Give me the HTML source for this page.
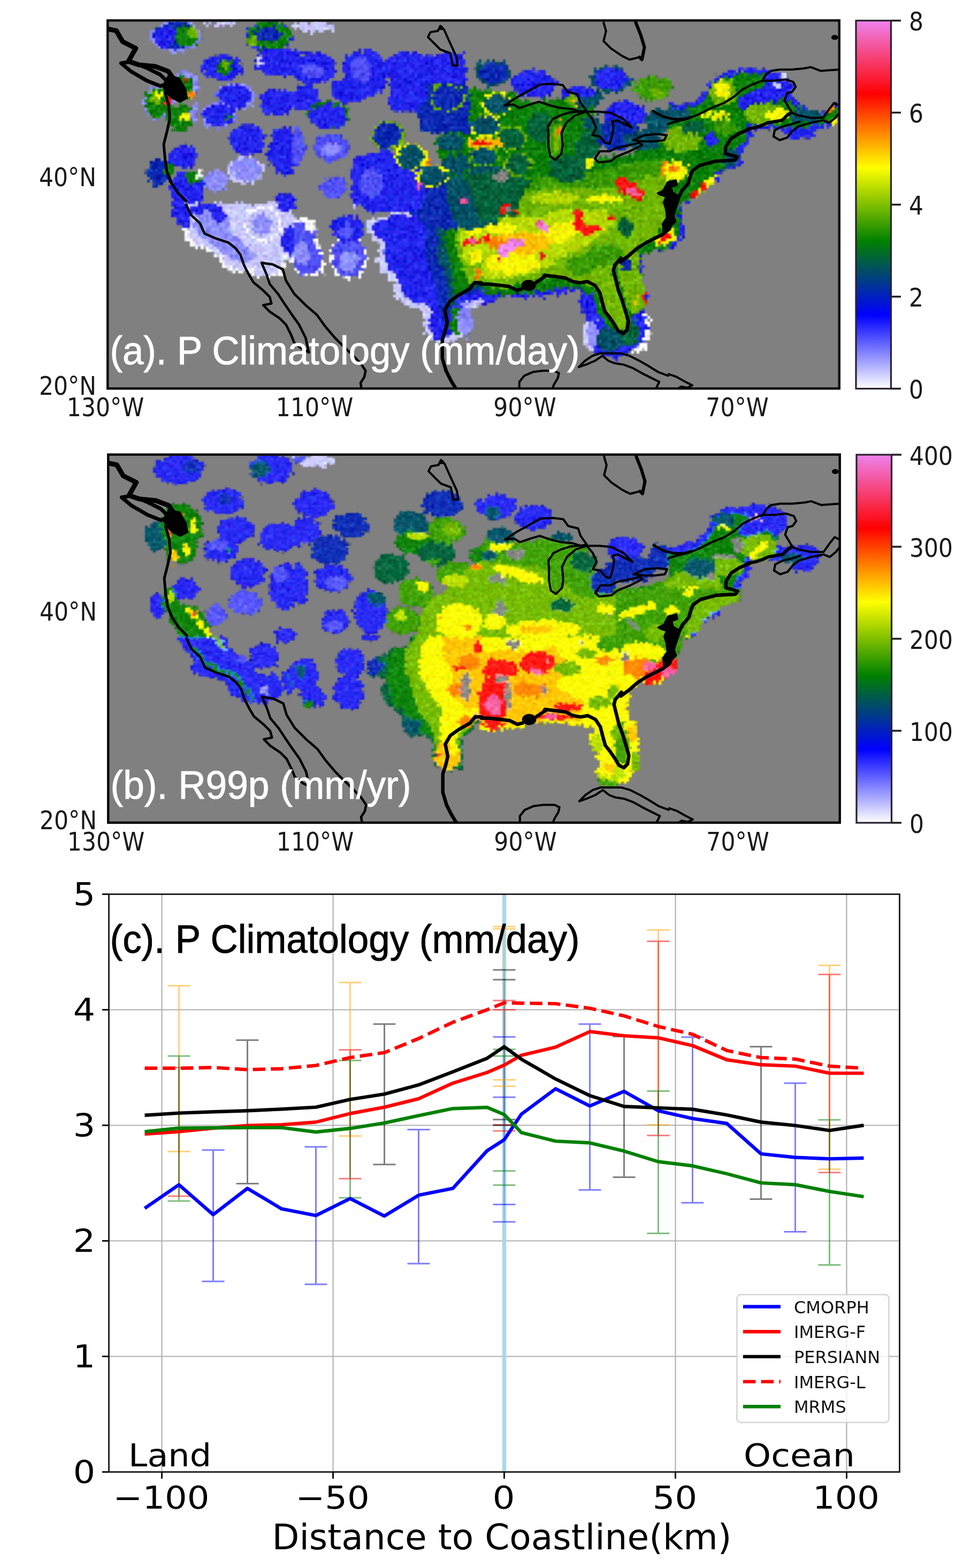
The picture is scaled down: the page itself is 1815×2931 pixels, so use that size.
<!DOCTYPE html>
<html lang="en"><head><meta charset="utf-8"><title>Precipitation climatology figure</title>
<style>html,body{margin:0;padding:0;background:#fff}body{width:1815px;height:2931px;overflow:hidden}svg{display:block}.tk{font-family:'DejaVu Sans','Liberation Sans',sans-serif;font-size:48px;fill:#1a1a1a}.tt{font-family:'Liberation Sans','DejaVu Sans',sans-serif;font-size:74px;stroke-width:0.9px;paint-order:stroke fill}.ct{font-family:'DejaVu Sans','Liberation Sans',sans-serif;font-size:59px;fill:#000}.lg{font-family:'DejaVu Sans','Liberation Sans',sans-serif;font-size:32px;fill:#111}</style></head><body>
<svg width="1815" height="2931" viewBox="0 0 1815 2931">
<defs>
<linearGradient id="cb" x1="0" y1="0" x2="0" y2="1"><stop offset="0" stop-color="#ee82ee"/><stop offset="0.2" stop-color="#ff0000"/><stop offset="0.4" stop-color="#ffff00"/><stop offset="0.6" stop-color="#008000"/><stop offset="0.8" stop-color="#0000ff"/><stop offset="1" stop-color="#ffffff"/></linearGradient>
<filter id="rough" filterUnits="userSpaceOnUse" x="200" y="36" width="1370" height="692" color-interpolation-filters="sRGB">
<feTurbulence type="fractalNoise" baseFrequency="0.11" numOctaves="2" seed="3" result="n"/>
<feDisplacementMap in="SourceGraphic" in2="n" scale="15" xChannelSelector="R" yChannelSelector="G" result="d"/>
<feTurbulence type="fractalNoise" baseFrequency="0.45" numOctaves="1" seed="11" result="n2"/>
<feDisplacementMap in="d" in2="n2" scale="13" xChannelSelector="G" yChannelSelector="R" result="d2"/>
<feTurbulence type="fractalNoise" baseFrequency="0.3" numOctaves="2" seed="29"/>
<feColorMatrix type="matrix" values="0.75 0.3 0 0 0  0.3 0.75 0 0 0  0.5 0.5 0 0 0  0 0 0 0 1" result="n3"/>
<feComposite in="d2" in2="n3" operator="arithmetic" k1="0" k2="1" k3="0.5" k4="-0.26" result="dn"/>
<feComposite in="dn" in2="d2" operator="in" result="dm"/>
<feFlood x="202" y="38" width="1" height="1" flood-color="#000"/>
<feComposite x="200" y="36" width="5" height="5"/>
<feTile result="grid"/>
<feComposite in="dm" in2="grid" operator="in"/>
<feMorphology operator="dilate" radius="2" result="px"/>
<feGaussianBlur in="px" stdDeviation="1.3"/>
</filter>

<clipPath id="clipA"><rect x="201" y="38" width="1368" height="688"/></clipPath>
<clipPath id="clipC"><rect x="204" y="1671" width="1478" height="1081"/></clipPath>
</defs>
<rect width="1815" height="2931" fill="#fff"/>
<g transform="translate(0 0)">
<rect x="201" y="38" width="1368" height="688" fill="#808080"/>
<g clip-path="url(#clipA)">
<g filter="url(#rough)">
<ellipse cx="329.6" cy="68.2" rx="47.5" ry="30.1" fill="#8c8cff"/>
<ellipse cx="329.6" cy="67.0" rx="42.1" ry="25.9" fill="#0a28b4"/>
<ellipse cx="348.1" cy="67.0" rx="23.1" ry="21.3" fill="#0a7e0a"/>
<ellipse cx="359.7" cy="60.1" rx="9.3" ry="11.6" fill="#70b400"/>
<ellipse cx="308.8" cy="69.4" rx="20.8" ry="18.5" fill="#2222f0"/>
<ellipse cx="408.3" cy="44.4" rx="30.1" ry="4.2" fill="#c8c8ff"/>
<ellipse cx="503.2" cy="68.2" rx="44.0" ry="30.1" fill="#2222f0"/>
<ellipse cx="503.2" cy="67.0" rx="39.8" ry="25.9" fill="#0a7e0a"/>
<ellipse cx="500.9" cy="64.7" rx="26.6" ry="14.4" fill="#0a28b4"/>
<ellipse cx="473.1" cy="76.3" rx="9.3" ry="11.6" fill="#70b400"/>
<ellipse cx="414.1" cy="126.1" rx="39.4" ry="24.3" fill="#2222f0"/>
<ellipse cx="419.9" cy="123.8" rx="13.9" ry="13.9" fill="#0a7e0a"/>
<ellipse cx="422.2" cy="120.3" rx="5.8" ry="9.3" fill="#70b400"/>
<ellipse cx="524.1" cy="116.8" rx="50.9" ry="25.9" fill="#2222f0"/>
<ellipse cx="484.7" cy="116.8" rx="6.5" ry="9.3" fill="#c8c8ff"/>
<ellipse cx="297.2" cy="192.0" rx="30.1" ry="31.2" fill="#8c8cff"/>
<ellipse cx="297.2" cy="192.0" rx="26.6" ry="27.8" fill="#0a7e0a"/>
<ellipse cx="292.6" cy="180.5" rx="11.6" ry="13.9" fill="#70b400"/>
<ellipse cx="297.2" cy="175.8" rx="6.9" ry="6.9" fill="#f6f600"/>
<ellipse cx="343.5" cy="159.6" rx="30.1" ry="27.8" fill="#8c8cff"/>
<ellipse cx="338.9" cy="164.3" rx="20.8" ry="23.1" fill="#0a7e0a"/>
<ellipse cx="357.4" cy="178.1" rx="6.9" ry="9.7" fill="#ff8000"/>
<ellipse cx="348.1" cy="150.4" rx="4.6" ry="6.9" fill="#ff1010"/>
<ellipse cx="315.7" cy="185.1" rx="6.9" ry="11.6" fill="#ff1010"/>
<ellipse cx="338.9" cy="222.1" rx="25.5" ry="25.5" fill="#0a7e0a"/>
<ellipse cx="345.8" cy="215.2" rx="9.3" ry="11.6" fill="#f6f600"/>
<ellipse cx="363.2" cy="210.6" rx="8.8" ry="18.5" fill="#8c8cff"/>
<ellipse cx="440.7" cy="180.5" rx="37.0" ry="26.6" fill="#8c8cff"/>
<ellipse cx="438.4" cy="180.5" rx="32.9" ry="23.1" fill="#2222f0"/>
<ellipse cx="408.3" cy="215.2" rx="33.6" ry="25.5" fill="#8c8cff"/>
<ellipse cx="408.3" cy="215.2" rx="29.4" ry="22.0" fill="#2222f0"/>
<ellipse cx="424.5" cy="219.8" rx="5.8" ry="5.8" fill="#0a7e0a"/>
<ellipse cx="519.4" cy="189.7" rx="37.0" ry="25.5" fill="#2222f0"/>
<ellipse cx="461.6" cy="261.5" rx="33.6" ry="27.8" fill="#2222f0"/>
<ellipse cx="531.0" cy="282.3" rx="30.1" ry="46.3" fill="#2222f0"/>
<ellipse cx="341.2" cy="291.6" rx="26.6" ry="22.0" fill="#2222f0"/>
<ellipse cx="297.2" cy="324.0" rx="22.0" ry="25.5" fill="#0a28b4"/>
<ellipse cx="315.7" cy="317.0" rx="9.3" ry="13.9" fill="#0a7e0a"/>
<ellipse cx="459.3" cy="317.0" rx="34.7" ry="26.6" fill="#c8c8ff"/>
<ellipse cx="459.3" cy="317.0" rx="28.2" ry="21.3" fill="#8c8cff"/>
<ellipse cx="403.7" cy="337.9" rx="22.0" ry="22.0" fill="#8c8cff"/>
<ellipse cx="350.5" cy="354.1" rx="34.7" ry="34.7" fill="#2222f0"/>
<ellipse cx="359.7" cy="330.9" rx="19.7" ry="8.8" fill="#0a7e0a" transform="rotate(35 359.7 330.9)"/>
<ellipse cx="373.6" cy="325.1" rx="6.9" ry="6.5" fill="#ffffff"/>
<ellipse cx="533.3" cy="372.6" rx="23.1" ry="11.6" fill="#2222f0"/>
<polygon points="550.0,41.6 624.1,41.6 624.1,53.1 603.2,60.6 573.1,60.6 550.0,52.0" fill="#c8c8ff"/>
<ellipse cx="584.7" cy="127.2" rx="44.0" ry="30.1" fill="#2222f0"/>
<ellipse cx="584.7" cy="131.9" rx="20.8" ry="13.9" fill="#5050f8"/>
<ellipse cx="679.6" cy="122.6" rx="40.5" ry="27.3" fill="#2222f0"/>
<ellipse cx="675.0" cy="122.6" rx="22.0" ry="16.2" fill="#8c8cff"/>
<ellipse cx="654.2" cy="168.9" rx="39.4" ry="24.3" fill="#2222f0"/>
<ellipse cx="686.6" cy="180.5" rx="5.1" ry="5.1" fill="#f6f600"/>
<ellipse cx="570.8" cy="182.8" rx="25.5" ry="25.5" fill="#2222f0"/>
<ellipse cx="614.8" cy="215.2" rx="37.5" ry="25.9" fill="#0a7e0a"/>
<ellipse cx="614.8" cy="217.5" rx="34.7" ry="23.1" fill="#2222f0"/>
<ellipse cx="619.4" cy="275.4" rx="34.7" ry="25.5" fill="#5050f8"/>
<ellipse cx="619.4" cy="280.0" rx="18.5" ry="11.6" fill="#8c8cff"/>
<ellipse cx="556.9" cy="273.1" rx="13.9" ry="34.7" fill="#5050f8"/>
<ellipse cx="758.3" cy="124.9" rx="40.5" ry="26.6" fill="#2222f0"/>
<ellipse cx="746.8" cy="138.8" rx="13.9" ry="5.8" fill="#f6f600" transform="rotate(20 746.8 138.8)"/>
<ellipse cx="825.5" cy="131.9" rx="41.7" ry="27.8" fill="#2222f0"/>
<ellipse cx="688.9" cy="335.6" rx="32.4" ry="46.3" fill="#2222f0"/>
<ellipse cx="688.9" cy="337.9" rx="13.9" ry="25.5" fill="#5050f8"/>
<ellipse cx="624.1" cy="349.4" rx="25.5" ry="20.8" fill="#5050f8"/>
<ellipse cx="746.8" cy="358.7" rx="28.9" ry="25.5" fill="#2222f0"/>
<ellipse cx="897.2" cy="127.2" rx="6.9" ry="11.6" fill="#005068"/>
<polygon points="900.0,173.5 957.9,178.1 992.6,192.0 1029.6,187.4 1075.9,178.1 1108.3,192.0 1108.3,215.2 1089.8,261.5 1108.3,296.2 1177.8,289.3 1250.0,261.5 1250.0,380.0 900.0,380.0" fill="#0a7e0a"/>
<polygon points="900.0,337.9 1015.7,330.9 1108.3,319.4 1189.4,303.1 1250.0,296.2 1250.0,380.0 900.0,380.0" fill="#3a9a04"/>
<polygon points="969.4,358.7 1062.0,349.4 1131.5,354.1 1200.9,330.9 1250.0,330.9 1250.0,380.0 969.4,380.0" fill="#70b400"/>
<ellipse cx="1038.9" cy="370.3" rx="46.3" ry="11.6" fill="#b4d800"/>
<ellipse cx="1131.5" cy="372.6" rx="34.7" ry="9.3" fill="#f6f600"/>
<ellipse cx="997.2" cy="155.0" rx="39.8" ry="25.9" fill="#2222f0"/>
<ellipse cx="1140.7" cy="148.1" rx="37.5" ry="24.8" fill="#005068"/>
<ellipse cx="1140.7" cy="148.1" rx="31.9" ry="21.1" fill="#2222f0"/>
<ellipse cx="1217.1" cy="164.3" rx="32.9" ry="22.5" fill="#3a9a04"/>
<ellipse cx="1228.7" cy="173.5" rx="13.9" ry="9.3" fill="#70b400"/>
<ellipse cx="1089.8" cy="182.8" rx="32.4" ry="20.8" fill="#005068"/>
<ellipse cx="1080.6" cy="173.5" rx="34.7" ry="11.6" fill="#2222f0"/>
<ellipse cx="1168.5" cy="212.9" rx="40.5" ry="24.3" fill="#2222f0"/>
<ellipse cx="1154.6" cy="252.2" rx="44.0" ry="28.9" fill="#0a28b4"/>
<ellipse cx="1228.7" cy="226.8" rx="23.1" ry="23.1" fill="#005068"/>
<ellipse cx="1200.9" cy="261.5" rx="34.7" ry="18.5" fill="#005068"/>
<ellipse cx="1062.0" cy="314.7" rx="37.0" ry="25.5" fill="#00603c"/>
<ellipse cx="1096.8" cy="275.4" rx="23.1" ry="23.1" fill="#00603c"/>
<ellipse cx="1011.1" cy="238.3" rx="27.8" ry="27.8" fill="#00603c"/>
<ellipse cx="1038.9" cy="261.5" rx="13.9" ry="34.7" fill="#3a9a04"/>
<ellipse cx="1041.2" cy="261.5" rx="6.9" ry="23.1" fill="#70b400"/>
<ellipse cx="1045.8" cy="238.3" rx="4.2" ry="16.2" fill="#ff8000" transform="rotate(15 1045.8 238.3)"/>
<ellipse cx="1069.0" cy="187.4" rx="11.6" ry="9.3" fill="#70b400"/>
<ellipse cx="1075.9" cy="192.0" rx="4.6" ry="5.8" fill="#ffc000"/>
<ellipse cx="1177.8" cy="354.1" rx="30.1" ry="12.7" fill="#ff1010" transform="rotate(30 1177.8 354.1)"/>
<ellipse cx="1184.7" cy="358.7" rx="13.9" ry="6.9" fill="#f45aa0" transform="rotate(30 1184.7 358.7)"/>
<ellipse cx="1242.6" cy="319.4" rx="9.3" ry="13.9" fill="#ff8000"/>
<ellipse cx="1101.4" cy="305.5" rx="6.9" ry="9.3" fill="#f6f600"/>
<polygon points="1250.0,192.0 1273.1,196.7 1298.6,189.7 1324.1,159.6 1340.3,138.8 1393.5,127.2 1430.6,129.5 1469.9,138.8 1483.8,159.6 1479.2,180.5 1504.6,201.3 1539.4,210.6 1567.1,192.0 1567.1,233.7 1530.1,240.6 1518.5,255.7 1481.5,260.3 1446.8,240.6 1405.1,240.6 1403.9,261.5 1387.7,284.6 1383.1,310.1 1349.5,325.1 1344.9,333.2 1310.2,356.4 1287.0,380.0 1250.0,380.0" fill="#2222f0"/>
<polygon points="1250.0,201.3 1275.5,205.9 1307.9,196.7 1333.3,166.6 1347.2,148.1 1393.5,136.5 1425.9,138.8 1435.2,159.6 1412.0,168.9 1388.9,178.1 1379.6,192.0 1388.9,205.9 1458.3,187.4 1481.5,192.0 1504.6,208.2 1539.4,217.5 1567.1,201.3 1567.1,229.1 1527.8,233.7 1504.6,238.3 1481.5,238.3 1446.8,233.7 1398.1,233.7 1393.5,261.5 1375.0,280.0 1370.4,303.1 1342.6,319.4 1338.0,328.6 1303.2,351.8 1282.4,380.0 1250.0,380.0" fill="#0a7e0a"/>
<ellipse cx="1453.7" cy="156.2" rx="23.1" ry="16.2" fill="#2222f0"/>
<ellipse cx="1465.3" cy="144.6" rx="6.9" ry="4.6" fill="#c8c8ff"/>
<ellipse cx="1451.4" cy="159.6" rx="11.6" ry="4.6" fill="#c8c8ff"/>
<ellipse cx="1351.9" cy="173.5" rx="25.5" ry="26.6" fill="#70b400"/>
<ellipse cx="1349.5" cy="168.9" rx="13.9" ry="16.2" fill="#f6f600"/>
<ellipse cx="1425.9" cy="212.9" rx="37.0" ry="22.0" fill="#70b400"/>
<ellipse cx="1453.7" cy="214.0" rx="20.8" ry="11.6" fill="#f6f600"/>
<ellipse cx="1338.0" cy="215.2" rx="27.8" ry="6.9" fill="#f6f600"/>
<ellipse cx="1331.0" cy="261.5" rx="13.9" ry="13.9" fill="#2222f0"/>
<ellipse cx="1273.1" cy="261.5" rx="37.0" ry="23.1" fill="#70b400"/>
<ellipse cx="1263.9" cy="321.7" rx="23.1" ry="18.5" fill="#f6f600"/>
<ellipse cx="1259.3" cy="314.7" rx="11.6" ry="5.8" fill="#ff8000"/>
<ellipse cx="1317.1" cy="347.1" rx="32.4" ry="6.5" fill="#f6f600" transform="rotate(-42 1317.1 347.1)"/>
<ellipse cx="1307.9" cy="354.1" rx="20.8" ry="3.2" fill="#ff1010" transform="rotate(-42 1307.9 354.1)"/>
<ellipse cx="1504.6" cy="217.5" rx="30.1" ry="13.9" fill="#005068"/>
<ellipse cx="1560.2" cy="226.8" rx="6.9" ry="6.9" fill="#f6f600"/>
<ellipse cx="1550.9" cy="205.9" rx="9.3" ry="5.8" fill="#ff8000" transform="rotate(-40 1550.9 205.9)"/>
<ellipse cx="1263.9" cy="215.2" rx="27.8" ry="13.9" fill="#005068"/>
<ellipse cx="1245.4" cy="159.6" rx="11.6" ry="11.6" fill="#3a9a04"/>
<ellipse cx="1365.7" cy="296.2" rx="13.9" ry="18.5" fill="#005068"/>
<ellipse cx="1296.3" cy="238.3" rx="23.1" ry="13.9" fill="#00603c"/>
<ellipse cx="1354.2" cy="238.3" rx="23.1" ry="13.9" fill="#3a9a04"/>
<polygon points="318.1,380.0 329.6,403.1 342.4,426.3 347.0,448.3 366.7,462.2 392.1,471.4 408.3,483.0 417.6,499.2 436.1,508.5 466.2,510.8 491.7,520.0 519.4,515.4 534.5,501.5 532.2,483.0 550.0,491.1 550.0,380.0" fill="#ffffff"/>
<polygon points="322.7,380.0 334.3,403.1 348.1,426.3 353.2,444.8 371.3,457.5 394.4,466.8 411.8,479.5 422.2,494.6 438.4,502.7 466.2,505.0 491.7,514.3 517.1,509.6 528.7,498.1 526.4,479.5 550.0,484.2 550.0,380.0" fill="#c8c8ff"/>
<ellipse cx="338.9" cy="398.5" rx="16.2" ry="27.8" fill="#2222f0" transform="rotate(-20 338.9 398.5)"/>
<ellipse cx="385.2" cy="393.9" rx="30.1" ry="13.9" fill="#2222f0"/>
<ellipse cx="396.8" cy="419.4" rx="34.7" ry="25.5" fill="#8c8cff"/>
<ellipse cx="408.3" cy="400.8" rx="13.9" ry="13.9" fill="#2222f0"/>
<ellipse cx="431.5" cy="461.0" rx="46.3" ry="20.8" fill="#8c8cff" transform="rotate(30 431.5 461.0)"/>
<ellipse cx="491.7" cy="419.4" rx="35.2" ry="34.0" fill="#ffffff"/>
<ellipse cx="491.7" cy="419.4" rx="30.6" ry="29.4" fill="#c8c8ff"/>
<ellipse cx="489.4" cy="419.4" rx="18.5" ry="18.5" fill="#8c8cff"/>
<ellipse cx="542.6" cy="449.4" rx="13.9" ry="27.8" fill="#2222f0"/>
<ellipse cx="535.6" cy="386.9" rx="18.5" ry="9.3" fill="#2222f0"/>
<ellipse cx="343.5" cy="410.1" rx="5.1" ry="3.5" fill="#70b400"/>
<polygon points="686.6,414.7 735.2,396.2 781.5,398.5 793.1,380.0 900.0,380.0 900.0,569.8 878.7,576.8 881.0,599.9 874.1,625.4 850.9,636.9 816.2,641.6 793.1,623.1 790.7,581.4 763.0,576.8 739.8,560.6 735.2,528.1 705.1,500.4 707.4,461.0 686.6,437.9" fill="#c8c8ff"/>
<polygon points="693.5,419.4 735.2,403.1 781.5,403.1 795.4,380.0 900.0,380.0 900.0,560.6 869.4,565.2 850.9,588.3 850.9,623.1 816.2,634.6 802.3,616.1 804.6,574.4 772.2,565.2 753.7,551.3 749.1,523.5 719.0,495.7 721.3,456.4 698.1,435.6" fill="#2222f0"/>
<polygon points="804.6,380.0 900.0,380.0 900.0,542.0 850.9,555.9 839.4,588.3 827.8,611.5 816.2,542.0 793.1,472.6" fill="#0a28b4"/>
<polygon points="823.1,380.0 900.0,380.0 900.0,537.4 855.6,551.3 844.0,579.1 837.0,542.0 816.2,472.6" fill="#005068"/>
<polygon points="839.4,380.0 900.0,380.0 900.0,532.8 860.2,546.7 850.9,565.2 846.3,518.9 832.4,449.4" fill="#0a7e0a"/>
<polygon points="857.9,403.1 900.0,393.9 900.0,528.1 874.1,528.1 862.5,495.7 850.9,449.4" fill="#70b400"/>
<ellipse cx="883.3" cy="449.4" rx="23.1" ry="46.3" fill="#b4d800"/>
<ellipse cx="885.6" cy="426.3" rx="13.9" ry="13.9" fill="#f6f600"/>
<ellipse cx="888.0" cy="479.5" rx="11.6" ry="13.9" fill="#f6f600"/>
<ellipse cx="881.0" cy="451.8" rx="16.2" ry="6.9" fill="#ff1010"/>
<ellipse cx="883.3" cy="451.8" rx="9.3" ry="3.5" fill="#f45aa0"/>
<ellipse cx="892.6" cy="509.6" rx="5.8" ry="11.6" fill="#ff8000"/>
<ellipse cx="781.5" cy="403.1" rx="5.8" ry="4.6" fill="#ffc000"/>
<ellipse cx="850.9" cy="599.9" rx="9.3" ry="27.8" fill="#0a7e0a"/>
<ellipse cx="869.4" cy="599.9" rx="13.9" ry="30.1" fill="#8c8cff"/>
<polygon points="550.0,410.1 574.3,410.1 594.0,429.8 591.7,456.4 605.6,477.2 605.6,511.9 563.9,518.9 550.0,502.7" fill="#ffffff"/>
<polygon points="550.0,414.7 572.0,414.7 589.4,432.1 587.0,457.5 600.9,479.5 599.8,507.3 565.0,513.1 550.0,495.7" fill="#5050f8"/>
<ellipse cx="580.1" cy="421.7" rx="11.6" ry="10.4" fill="#ffffff"/>
<ellipse cx="563.9" cy="472.6" rx="13.9" ry="23.1" fill="#8c8cff"/>
<ellipse cx="651.9" cy="481.9" rx="35.9" ry="40.5" fill="#ffffff"/>
<ellipse cx="651.9" cy="479.5" rx="31.2" ry="35.9" fill="#5050f8"/>
<ellipse cx="651.9" cy="488.8" rx="18.5" ry="20.8" fill="#8c8cff"/>
<ellipse cx="649.5" cy="426.3" rx="30.1" ry="25.5" fill="#2222f0"/>
<ellipse cx="649.5" cy="430.9" rx="13.9" ry="13.9" fill="#5050f8"/>
<ellipse cx="665.7" cy="384.6" rx="5.8" ry="5.8" fill="#c8c8ff"/>
<ellipse cx="1195.1" cy="618.4" rx="22.0" ry="39.4" fill="#ffffff"/>
<ellipse cx="1103.7" cy="625.4" rx="13.9" ry="32.4" fill="#c8c8ff"/>
<polygon points="900.0,572.1 923.1,562.9 946.3,553.6 992.6,558.2 1038.9,549.0 1085.2,542.0 1087.5,583.7 1103.7,606.9 1099.1,634.6 1108.3,655.5 1131.5,664.7 1154.6,669.4 1177.8,657.8 1198.6,639.3 1210.2,611.5 1205.6,583.7 1210.2,553.6 1200.9,518.9 1198.6,477.2 1224.1,468.0 1250.0,465.6 1250.0,380.0 900.0,380.0" fill="#2222f0"/>
<ellipse cx="1108.3" cy="625.4" rx="10.4" ry="27.8" fill="#8c8cff"/>
<polygon points="900.0,546.7 946.3,551.3 992.6,546.7 1048.1,537.4 1085.2,539.7 1108.3,555.9 1119.9,588.3 1143.1,623.1 1173.1,625.4 1184.7,588.3 1200.9,553.6 1196.3,477.2 1250.0,461.0 1250.0,380.0 900.0,380.0" fill="#0a7e0a"/>
<ellipse cx="1140.7" cy="634.6" rx="27.8" ry="23.1" fill="#005068"/>
<ellipse cx="1177.8" cy="623.1" rx="18.5" ry="23.1" fill="#00603c"/>
<polygon points="900.0,380.0 1250.0,380.0 1250.0,410.1 1224.1,440.2 1189.4,468.0 1154.6,488.8 1145.4,505.0 1154.6,542.0 1173.1,588.3 1170.8,618.4 1154.6,620.7 1136.1,588.3 1122.2,555.9 1103.7,528.1 1075.9,528.1 1048.1,516.6 1015.7,516.6 997.2,528.1 969.4,530.5 946.3,539.7 900.0,530.5" fill="#70b400"/>
<polygon points="1154.6,488.8 1189.4,468.0 1196.3,477.2 1198.6,518.9 1207.9,553.6 1205.6,581.4 1177.8,588.3 1173.1,565.2 1154.6,518.9" fill="#70b400"/>
<ellipse cx="1168.5" cy="495.7" rx="11.6" ry="13.9" fill="#0a28b4"/>
<ellipse cx="1184.7" cy="514.3" rx="3.5" ry="4.6" fill="#ff1010"/>
<ellipse cx="1205.6" cy="560.6" rx="3.5" ry="6.9" fill="#ff1010"/>
<ellipse cx="1189.4" cy="560.6" rx="4.6" ry="9.3" fill="#ffc000"/>
<polygon points="900.0,426.3 946.3,407.8 1015.7,403.1 1062.0,391.6 1131.5,391.6 1154.6,414.7 1108.3,449.4 1062.0,477.2 1015.7,500.4 969.4,518.9 923.1,523.5 900.0,518.9" fill="#b4d800"/>
<ellipse cx="957.9" cy="491.1" rx="50.9" ry="20.8" fill="#f6f600"/>
<ellipse cx="1038.9" cy="437.9" rx="46.3" ry="18.5" fill="#f6f600" transform="rotate(-20 1038.9 437.9)"/>
<ellipse cx="934.7" cy="426.3" rx="27.8" ry="11.6" fill="#f6f600"/>
<ellipse cx="1168.5" cy="426.3" rx="13.9" ry="16.2" fill="#00603c"/>
<ellipse cx="1131.5" cy="477.2" rx="34.7" ry="23.1" fill="#3a9a04"/>
<ellipse cx="1085.2" cy="495.7" rx="27.8" ry="18.5" fill="#3a9a04"/>
<ellipse cx="976.4" cy="454.1" rx="55.6" ry="20.8" fill="#ffc000"/>
<ellipse cx="927.8" cy="454.1" rx="23.1" ry="9.3" fill="#ff8000"/>
<polygon points="930.1,463.3 957.9,442.5 978.7,447.1 983.3,456.4 957.9,468.0 946.3,481.9 934.7,477.2" fill="#ee82ee"/>
<ellipse cx="1018.1" cy="424.0" rx="9.3" ry="9.3" fill="#ee82ee"/>
<ellipse cx="1008.8" cy="417.0" rx="4.6" ry="4.6" fill="#f45aa0"/>
<ellipse cx="909.3" cy="447.1" rx="8.1" ry="5.8" fill="#ff1010"/>
<ellipse cx="957.9" cy="398.5" rx="11.6" ry="6.9" fill="#ff1010"/>
<ellipse cx="1013.4" cy="481.9" rx="4.6" ry="4.6" fill="#ff1010"/>
<polyline points="1078.2,398.5 1082.9,421.7 1096.8,433.2 1113.0,426.3" fill="none" stroke="#ff1010" stroke-width="14" stroke-linejoin="round" stroke-linecap="round"/>
<ellipse cx="934.7" cy="484.2" rx="4.6" ry="6.9" fill="#ff1010"/>
<ellipse cx="1145.4" cy="407.8" rx="4.6" ry="3.5" fill="#ff1010"/>
<ellipse cx="1240.3" cy="454.1" rx="11.6" ry="6.9" fill="#f6f600"/>
<ellipse cx="1242.6" cy="462.2" rx="9.3" ry="3.5" fill="#0a7e0a"/>
<polygon points="1250.0,380.0 1273.1,380.0 1278.9,437.9 1263.9,461.0 1250.0,469.1" fill="#2222f0"/>
<polygon points="1250.0,380.0 1268.5,380.0 1270.8,435.6 1259.3,454.1 1250.0,458.7" fill="#0a7e0a"/>
<ellipse cx="1254.6" cy="440.2" rx="8.1" ry="13.9" fill="#f6f600"/>
<ellipse cx="1252.3" cy="442.5" rx="4.2" ry="9.3" fill="#ff8000"/>
<polygon points="725.0,104.9 868.0,98.8 874.0,159.7 807.1,165.8 791.9,208.4 731.1,208.4" fill="#2222f0"/>
<polygon points="782.8,159.7 874.0,153.6 883.2,251.0 849.7,251.0 782.8,244.9" fill="#0a28b4"/>
<polygon points="874.0,165.8 959.2,171.9 989.7,251.0 989.7,327.0 868.0,327.0 825.4,311.8 813.2,251.0 880.1,251.0" fill="#0a7e0a"/>
<polygon points="755.4,342.2 791.9,311.8 868.0,330.1 868.0,418.3 837.5,433.5 791.9,418.3 755.4,387.9" fill="#0a28b4"/>
<polygon points="825.4,311.8 928.8,311.8 959.2,342.2 928.8,418.3 868.0,433.5 843.6,403.1" fill="#005068"/>
<polygon points="868.0,327.0 959.2,311.8 989.7,342.2 959.2,403.1 898.4,418.3" fill="#00603c"/>
<polygon points="661.1,293.6 715.8,281.4 791.9,311.8 791.9,387.9 755.4,397.0 685.4,397.0 655.0,372.7" fill="#2222f0"/>
<ellipse cx="694.5" cy="342.2" rx="21.3" ry="27.4" fill="#5050f8"/>
<ellipse cx="685.4" cy="138.4" rx="39.5" ry="45.6" fill="#2222f0"/>
<ellipse cx="673.3" cy="129.3" rx="18.3" ry="24.3" fill="#5050f8"/>
<ellipse cx="761.5" cy="120.1" rx="39.5" ry="22.8" fill="#2222f0"/>
<ellipse cx="825.4" cy="127.7" rx="38.0" ry="30.4" fill="#2222f0"/>
<ellipse cx="761.5" cy="173.4" rx="35.0" ry="33.5" fill="#2222f0"/>
<ellipse cx="998.8" cy="156.6" rx="38.9" ry="26.8" fill="#2222f0"/>
<ellipse cx="816.2" cy="223.6" rx="34.1" ry="20.7" fill="#0a28b4"/>
<ellipse cx="922.7" cy="136.9" rx="33.5" ry="24.3" fill="#005068"/>
<ellipse cx="922.7" cy="136.9" rx="27.4" ry="20.0" fill="#0a28b4"/>
<ellipse cx="837.5" cy="182.5" rx="34.1" ry="26.8" fill="#70b400"/>
<ellipse cx="837.5" cy="182.5" rx="29.3" ry="23.0" fill="#0a28b4"/>
<ellipse cx="928.8" cy="194.7" rx="28.9" ry="21.3" fill="#f6f600"/>
<ellipse cx="928.8" cy="194.7" rx="24.6" ry="18.1" fill="#005068"/>
<ellipse cx="725.0" cy="252.5" rx="31.9" ry="26.8" fill="#70b400"/>
<ellipse cx="725.0" cy="252.5" rx="27.5" ry="23.0" fill="#0a28b4"/>
<ellipse cx="907.5" cy="235.7" rx="29.8" ry="21.9" fill="#f6f600"/>
<ellipse cx="907.5" cy="235.7" rx="25.3" ry="18.6" fill="#005068"/>
<ellipse cx="956.2" cy="258.6" rx="29.8" ry="23.7" fill="#70b400"/>
<ellipse cx="956.2" cy="258.6" rx="25.3" ry="20.2" fill="#00603c"/>
<ellipse cx="843.6" cy="266.2" rx="31.0" ry="20.7" fill="#0a7e0a"/>
<ellipse cx="843.6" cy="266.2" rx="27.3" ry="18.2" fill="#005068"/>
<ellipse cx="767.6" cy="293.6" rx="31.0" ry="24.9" fill="#f6f600"/>
<ellipse cx="767.6" cy="293.6" rx="26.4" ry="21.2" fill="#005068"/>
<ellipse cx="904.5" cy="292.0" rx="28.0" ry="17.6" fill="#70b400"/>
<ellipse cx="904.5" cy="292.0" rx="24.6" ry="15.5" fill="#005068"/>
<ellipse cx="968.4" cy="307.2" rx="25.9" ry="20.7" fill="#70b400"/>
<ellipse cx="968.4" cy="307.2" rx="22.8" ry="18.2" fill="#00603c"/>
<ellipse cx="852.7" cy="307.2" rx="28.0" ry="20.7" fill="#0a7e0a"/>
<ellipse cx="852.7" cy="307.2" rx="25.2" ry="18.6" fill="#005068"/>
<ellipse cx="807.1" cy="330.1" rx="29.8" ry="21.9" fill="#f6f600"/>
<ellipse cx="807.1" cy="330.1" rx="25.3" ry="18.6" fill="#005068"/>
<ellipse cx="907.5" cy="267.7" rx="35.0" ry="9.1" fill="#ffc000"/>
<ellipse cx="898.4" cy="269.2" rx="18.3" ry="4.9" fill="#ff1010"/>
<ellipse cx="801.0" cy="305.7" rx="7.6" ry="6.1" fill="#ff8000"/>
<ellipse cx="785.8" cy="345.3" rx="7.6" ry="6.1" fill="#f45aa0"/>
<ellipse cx="936.4" cy="330.1" rx="13.7" ry="10.6" fill="#808080"/>
<ellipse cx="868.0" cy="375.7" rx="7.6" ry="5.5" fill="#f45aa0"/>
<ellipse cx="947.1" cy="390.9" rx="12.2" ry="9.1" fill="#ff1010"/>
<ellipse cx="951.6" cy="392.4" rx="5.5" ry="4.3" fill="#808080"/>
<ellipse cx="1240.8" cy="445.7" rx="22.8" ry="9.7" fill="#f6f600" transform="rotate(-28 1240.8 445.7)"/>
<ellipse cx="1243.9" cy="444.1" rx="12.2" ry="4.3" fill="#ff1010" transform="rotate(-28 1243.9 444.1)"/>
<ellipse cx="1108.3" cy="238.3" rx="18.5" ry="25.5" fill="#005068"/>
<ellipse cx="1103.7" cy="252.2" rx="13.9" ry="13.9" fill="#00603c"/>
</g>
</g>
<g clip-path="url(#clipA)">
<polyline points="199.0,53.7 217.3,57.4 229.4,78.0 253.8,90.2 240.1,114.6 259.8,121.3 290.3,124.3 314.6,133.4 326.8,151.1 342.0,169.3" fill="none" stroke="#000000" stroke-width="9" stroke-linejoin="round" stroke-linecap="round"/>
<polyline points="226.4,118.2 244.6,133.4 275.1,151.1 299.4,160.8 316.1,155.6 299.4,139.5 275.1,127.3 244.6,115.2 226.4,118.2" fill="none" stroke="#000000" stroke-width="7" stroke-linejoin="round" stroke-linecap="round"/>
<polygon points="314.6,138.9 335.9,145.0 348.1,166.3 351.1,184.5 335.9,192.1 320.7,184.5 308.5,172.4 302.4,160.2" fill="#000000"/>
<polyline points="308.5,172.4 315.2,196.7 317.6,221.0 312.2,245.4 306.1,269.7 308.5,297.1 312.2,321.4 320.7,342.7 332.9,361.0 348.1,376.2" fill="none" stroke="#000000" stroke-width="5" stroke-linejoin="round" stroke-linecap="round"/>
<polyline points="348.2,382.7 356.7,401.6 373.4,416.8 382.5,436.6 403.2,445.7 426.7,453.3 440.3,463.9 449.5,476.1 455.6,494.4 464.7,512.6 473.8,527.8 492.1,543.0 504.2,555.2 507.3,567.4 492.1,570.4 504.2,582.6 522.5,594.8 534.7,606.9 543.8,625.2 549.9,640.4 565.1,652.6 577.2,658.6" fill="none" stroke="#000000" stroke-width="4.5" stroke-linejoin="round" stroke-linecap="round"/>
<polyline points="489.0,491.3 498.1,512.6 504.2,530.9 519.4,549.1 531.6,567.4 543.8,585.6 559.0,606.9 571.2,631.3 577.2,658.6" fill="none" stroke="#000000" stroke-width="4.5" stroke-linejoin="round" stroke-linecap="round"/>
<polyline points="489.0,491.3 510.3,494.4 528.6,503.5 534.7,524.8 549.9,549.1 571.2,570.4 592.5,588.7 607.7,610.0 625.9,631.3 641.1,646.5 660.0,664.7 674.6,679.9 683.4,693.0 681.0,704.6 674.0,715.8 676.4,730.4" fill="none" stroke="#000000" stroke-width="4.5" stroke-linejoin="round" stroke-linecap="round"/>
<polyline points="823.1,48.5 830.1,55.5 839.4,76.3 853.2,106.4 855.6,122.6 846.3,122.6 841.7,99.4 823.1,92.5 806.9,76.3 800.0,69.4 804.6,60.1 818.5,57.8 823.1,48.5" fill="none" stroke="#000000" stroke-width="4" stroke-linejoin="round" stroke-linecap="round"/>
<ellipse cx="824.3" cy="52.0" rx="4.2" ry="4.2" fill="#000000"/>
<polyline points="1128.2,42.1 1132.8,58.3 1128.2,76.8 1142.1,90.7 1162.9,104.6 1176.8,111.5 1195.3,106.9" fill="none" stroke="#000000" stroke-width="4" stroke-linejoin="round" stroke-linecap="round"/>
<polyline points="1188.4,42.1 1197.6,65.2 1204.6,88.4 1199.9,111.5 1195.3,106.9" fill="none" stroke="#000000" stroke-width="6" stroke-linejoin="round" stroke-linecap="round"/>
<polyline points="943.0,197.2 963.8,183.3 984.6,171.7 1010.1,157.8 1033.3,156.7 1051.8,159.0 1061.0,171.7 1079.6,176.3 1084.2,190.2 1095.8,206.4 1084.2,208.7 1070.3,204.1 1047.1,201.8 1028.6,197.2 1007.8,190.2 991.6,194.9 970.8,201.8 959.2,194.9 943.0,197.2" fill="none" stroke="#000000" stroke-width="4" stroke-linejoin="round" stroke-linecap="round"/>
<polyline points="1095.8,208.7 1074.9,215.7 1058.7,229.6 1049.5,248.1 1051.8,271.2 1049.5,287.4 1037.9,299.0 1028.6,292.1 1025.2,273.6 1025.2,250.4 1024.0,236.5 1033.3,222.6 1047.1,215.7 1065.7,209.9 1084.2,208.3 1095.8,208.7" fill="none" stroke="#000000" stroke-width="4" stroke-linejoin="round" stroke-linecap="round"/>
<polyline points="1095.8,208.7 1118.9,208.7 1142.1,211.1 1165.2,222.6 1181.4,238.8 1172.1,234.2 1153.6,224.9 1144.4,227.3 1146.7,238.8 1144.4,252.7 1139.7,268.9 1130.5,266.6 1121.2,255.0 1107.3,252.7 1114.3,238.8 1107.3,222.6 1095.8,208.7" fill="none" stroke="#000000" stroke-width="4" stroke-linejoin="round" stroke-linecap="round"/>
<polyline points="1112.0,296.7 1121.2,282.8 1139.7,282.8 1153.6,275.9 1176.8,271.2 1195.3,266.6 1199.9,271.2 1176.8,282.8 1153.6,292.1 1142.1,301.3 1118.9,303.6 1112.0,296.7" fill="none" stroke="#000000" stroke-width="4" stroke-linejoin="round" stroke-linecap="round"/>
<polyline points="1183.7,262.0 1204.6,252.7 1227.7,250.4 1246.2,252.7 1241.6,262.0 1223.1,264.3 1199.9,264.3 1183.7,262.0" fill="none" stroke="#000000" stroke-width="4" stroke-linejoin="round" stroke-linecap="round"/>
<polyline points="1249.0,231.9 1262.9,227.3 1283.7,222.6 1306.9,213.4 1330.0,201.8 1353.2,192.5 1371.7,181.0 1387.9,167.1 1406.4,157.8 1424.9,150.9 1431.9,139.3 1441.1,132.4 1457.3,130.0 1480.5,130.0 1503.6,127.7 1515.2,125.4 1533.7,132.4 1568.4,130.0" fill="none" stroke="#000000" stroke-width="4" stroke-linejoin="round" stroke-linecap="round"/>
<polyline points="1424.9,150.9 1445.8,150.9 1468.9,148.6 1482.8,153.2 1487.4,162.4 1480.5,171.7 1471.2,174.0 1466.6,187.9 1480.5,211.1 1492.1,215.7 1515.2,220.3 1538.4,220.3 1549.9,204.1 1559.2,192.5 1568.4,197.2" fill="none" stroke="#000000" stroke-width="4" stroke-linejoin="round" stroke-linecap="round"/>
<polyline points="1448.1,243.5 1445.8,255.0 1457.3,262.0 1471.2,257.4 1480.5,245.8 1492.1,236.5 1515.2,229.6 1538.4,224.9 1549.9,229.6 1561.5,220.3 1568.4,211.1" fill="none" stroke="#000000" stroke-width="4" stroke-linejoin="round" stroke-linecap="round"/>
<polyline points="1448.1,243.5 1462.0,236.5 1480.5,231.9 1494.4,227.3" fill="none" stroke="#000000" stroke-width="4" stroke-linejoin="round" stroke-linecap="round"/>
<polyline points="1397.1,241.1 1411.0,238.8 1424.9,234.2 1434.2,229.6 1448.1,227.3 1462.0,224.9 1471.2,215.7 1478.2,211.1" fill="none" stroke="#000000" stroke-width="6" stroke-linejoin="round" stroke-linecap="round"/>
<ellipse cx="1560.3" cy="69.9" rx="6.5" ry="4.6" fill="#000000"/>
<polyline points="899.0,528.6 887.0,528.6 877.7,540.2 856.9,551.8 840.7,563.4 831.4,579.6 836.0,602.7 831.4,621.2 826.8,635.1 826.8,669.9 833.7,693.0 843.0,711.5 854.6,730.5" fill="none" stroke="#000000" stroke-width="6.5" stroke-linejoin="round" stroke-linecap="round"/>
<polyline points="899.0,531.0 912.9,531.0 933.7,533.3 952.2,535.6 966.1,542.5 975.4,540.2" fill="none" stroke="#000000" stroke-width="6.5" stroke-linejoin="round" stroke-linecap="round"/>
<ellipse cx="988.1" cy="533.3" rx="13.4" ry="10.4" fill="#000000"/>
<ellipse cx="1018.2" cy="515.9" rx="4.6" ry="4.6" fill="#000000"/>
<polyline points="1000.9,528.6 1014.7,519.4 1019.4,514.8 1037.9,517.1 1056.4,519.4 1070.3,526.3 1084.2,528.6 1098.1,526.3 1112.0,533.3 1121.2,547.2 1125.9,565.7 1130.5,581.9 1139.7,593.5 1149.0,607.4 1155.9,618.9 1165.2,623.6 1172.1,616.6 1174.5,600.4 1169.8,584.2 1162.9,561.1 1155.9,542.5 1151.3,524.0 1146.7,505.5 1149.0,496.2 1160.6,482.4" fill="none" stroke="#000000" stroke-width="6.5" stroke-linejoin="round" stroke-linecap="round"/>
<polyline points="1081.9,686.1 1093.4,674.5 1107.3,665.2 1121.2,660.6 1142.1,660.6 1160.6,660.6 1176.8,665.2 1195.3,674.5 1211.5,683.7 1230.0,695.3 1249.0,702.3" fill="none" stroke="#000000" stroke-width="4" stroke-linejoin="round" stroke-linecap="round"/>
<polyline points="1081.9,686.1 1095.8,681.4 1112.0,674.5 1125.9,665.2 1137.4,674.5 1149.0,679.1 1165.2,681.4 1183.7,688.4 1199.9,697.6 1213.8,704.6 1232.3,713.8 1227.7,723.1 1223.1,730.5" fill="none" stroke="#000000" stroke-width="4" stroke-linejoin="round" stroke-linecap="round"/>
<polyline points="970.8,730.5 970.8,713.8 980.0,702.3 996.2,695.3 1014.7,693.0 1035.6,693.0 1044.8,697.6 1042.5,706.9 1035.6,718.5 1030.9,730.5" fill="none" stroke="#000000" stroke-width="4" stroke-linejoin="round" stroke-linecap="round"/>
<polyline points="1250.0,699.4 1263.9,704.1 1280.1,713.3 1294.0,720.3 1284.7,724.9 1273.1,722.6 1261.6,730.0" fill="none" stroke="#000000" stroke-width="4" stroke-linejoin="round" stroke-linecap="round"/>
<polyline points="1159.5,489.7 1175.4,477.8 1191.3,463.9 1207.1,454.0 1223.0,446.0 1238.9,438.1 1250.8,428.2 1256.7,410.3 1258.7,398.4 1262.7,386.5 1268.7,368.7 1274.6,356.7 1286.5,342.9 1290.5,329.0 1294.4,319.0 1308.3,309.1 1338.1,301.2 1373.8,299.2 1377.8,293.3 1356.0,287.3 1356.0,275.4 1365.9,259.5 1381.7,249.6 1400.0,241.7" fill="none" stroke="#000000" stroke-width="6.5" stroke-linejoin="round" stroke-linecap="round"/>
<polygon points="1227.0,360.7 1238.9,354.8 1246.8,338.9 1264.7,334.9 1266.7,346.8 1256.7,350.8 1258.7,358.7 1268.7,364.7 1264.7,378.6 1258.7,388.5 1260.7,402.4 1264.7,414.3 1254.8,424.2 1250.8,432.1 1238.9,436.1 1236.9,418.3 1244.8,406.3 1242.9,390.5 1238.9,378.6 1242.9,368.7 1231.0,364.7" fill="#000000"/>
<polyline points="1221.0,207.9 1238.9,217.9 1258.7,222.8 1278.6,222.8 1290.5,218.8" fill="none" stroke="#000000" stroke-width="5" stroke-linejoin="round" stroke-linecap="round"/>
</g>
<text x="205.5" y="681" class="tt" fill="#fff" stroke="#fff" textLength="878" lengthAdjust="spacingAndGlyphs">(a). P Climatology (mm/day)</text>
<rect x="201.25" y="38.25" width="1367.5" height="688" fill="none" stroke="#0a0a0a" stroke-width="4.5"/>
<rect x="1600" y="38.5" width="65.5" height="688" fill="url(#cb)"/>
<rect x="1600" y="38.5" width="65.5" height="688" fill="none" stroke="#2a2230" stroke-width="3.2"/>
<line x1="1666" y1="726.5" x2="1684" y2="726.5" stroke="#222" stroke-width="3.5"/>
<text transform="translate(1699 745.0) scale(0.885 1)" class="tk" text-anchor="start">0</text>
<line x1="1666" y1="554.5" x2="1684" y2="554.5" stroke="#222" stroke-width="3.5"/>
<text transform="translate(1699 573.0) scale(0.885 1)" class="tk" text-anchor="start">2</text>
<line x1="1666" y1="382.5" x2="1684" y2="382.5" stroke="#222" stroke-width="3.5"/>
<text transform="translate(1699 401.0) scale(0.885 1)" class="tk" text-anchor="start">4</text>
<line x1="1666" y1="210.5" x2="1684" y2="210.5" stroke="#222" stroke-width="3.5"/>
<text transform="translate(1699 229.0) scale(0.885 1)" class="tk" text-anchor="start">6</text>
<line x1="1666" y1="38.5" x2="1684" y2="38.5" stroke="#222" stroke-width="3.5"/>
<text transform="translate(1699 57.0) scale(0.885 1)" class="tk" text-anchor="start">8</text>
<text transform="translate(180 348) scale(0.885 1)" class="tk" text-anchor="end">40°N</text>
<text transform="translate(180 738) scale(0.885 1)" class="tk" text-anchor="end">20°N</text>
<text transform="translate(197 778) scale(0.885 1)" class="tk" text-anchor="middle">130°W</text>
<text transform="translate(588 778) scale(0.885 1)" class="tk" text-anchor="middle">110°W</text>
<text transform="translate(981 778) scale(0.885 1)" class="tk" text-anchor="middle">90°W</text>
<text transform="translate(1378 778) scale(0.885 1)" class="tk" text-anchor="middle">70°W</text>
</g>
<g transform="translate(1 811.5)">
<rect x="201" y="38" width="1368" height="688" fill="#808080"/>
<g clip-path="url(#clipA)">
<g filter="url(#rough)">
<ellipse cx="333.3" cy="65.2" rx="44.0" ry="26.6" fill="#2222f0"/>
<ellipse cx="356.4" cy="60.6" rx="16.2" ry="13.9" fill="#0a28b4"/>
<ellipse cx="506.9" cy="65.2" rx="39.4" ry="25.5" fill="#2222f0"/>
<ellipse cx="486.0" cy="65.2" rx="16.2" ry="16.2" fill="#005068"/>
<ellipse cx="416.6" cy="125.4" rx="37.0" ry="23.1" fill="#2222f0"/>
<ellipse cx="421.2" cy="120.8" rx="13.9" ry="11.6" fill="#0a28b4"/>
<ellipse cx="439.7" cy="178.6" rx="34.7" ry="23.1" fill="#2222f0"/>
<ellipse cx="412.0" cy="215.7" rx="32.4" ry="22.0" fill="#2222f0"/>
<ellipse cx="407.3" cy="206.4" rx="16.2" ry="9.3" fill="#5050f8"/>
<ellipse cx="425.9" cy="218.0" rx="4.6" ry="5.8" fill="#0a7e0a"/>
<ellipse cx="523.1" cy="192.5" rx="39.4" ry="25.5" fill="#2222f0"/>
<ellipse cx="462.9" cy="259.7" rx="32.4" ry="25.5" fill="#2222f0"/>
<ellipse cx="530.0" cy="285.1" rx="27.8" ry="41.7" fill="#2222f0"/>
<ellipse cx="523.1" cy="262.0" rx="13.9" ry="13.9" fill="#5050f8"/>
<ellipse cx="458.3" cy="315.2" rx="30.1" ry="20.8" fill="#5050f8"/>
<ellipse cx="402.7" cy="338.4" rx="18.5" ry="18.5" fill="#5050f8"/>
<ellipse cx="344.8" cy="289.8" rx="23.1" ry="18.5" fill="#2222f0"/>
<ellipse cx="293.9" cy="322.2" rx="13.9" ry="20.8" fill="#2222f0"/>
<ellipse cx="291.6" cy="190.2" rx="20.8" ry="25.5" fill="#005068"/>
<ellipse cx="337.9" cy="171.7" rx="39.4" ry="39.4" fill="#0a7e0a"/>
<ellipse cx="337.9" cy="215.7" rx="30.1" ry="25.5" fill="#0a7e0a"/>
<ellipse cx="361.0" cy="174.0" rx="6.5" ry="13.9" fill="#f6f600"/>
<ellipse cx="347.1" cy="215.7" rx="6.9" ry="11.6" fill="#f6f600"/>
<ellipse cx="324.0" cy="229.6" rx="6.5" ry="11.6" fill="#ffc000"/>
<ellipse cx="314.7" cy="183.3" rx="4.6" ry="9.3" fill="#ff1010"/>
<ellipse cx="347.1" cy="148.6" rx="3.7" ry="3.7" fill="#ff1010"/>
<polygon points="300.9,299.0 319.4,285.1 337.9,319.9 365.7,324.5 384.2,343.0 395.8,380.5 337.9,380.5 314.7,343.0 300.9,319.9" fill="#0a7e0a"/>
<polyline points="356.4,329.1 374.9,354.6 388.8,373.1" fill="none" stroke="#f6f600" stroke-width="7" stroke-linejoin="round" stroke-linecap="round"/>
<ellipse cx="363.4" cy="336.1" rx="5.8" ry="4.2" fill="#ff1010"/>
<ellipse cx="319.4" cy="303.6" rx="3.5" ry="11.6" fill="#b4d800"/>
<ellipse cx="532.3" cy="373.1" rx="18.5" ry="9.3" fill="#2222f0"/>
<polygon points="549.0,42.1 625.4,42.1 623.1,52.5 602.2,60.6 572.1,60.6 549.0,49.0" fill="#c8c8ff"/>
<ellipse cx="558.3" cy="47.9" rx="9.3" ry="5.8" fill="#5050f8"/>
<ellipse cx="586.0" cy="130.0" rx="35.9" ry="24.3" fill="#2222f0"/>
<ellipse cx="655.5" cy="169.4" rx="32.4" ry="23.1" fill="#0a28b4"/>
<ellipse cx="569.8" cy="181.0" rx="27.8" ry="23.1" fill="#2222f0"/>
<ellipse cx="616.1" cy="215.7" rx="34.7" ry="25.5" fill="#0a28b4"/>
<ellipse cx="620.8" cy="268.9" rx="34.7" ry="23.1" fill="#2222f0"/>
<ellipse cx="627.7" cy="278.2" rx="20.8" ry="11.6" fill="#5050f8"/>
<ellipse cx="558.3" cy="280.5" rx="16.2" ry="37.0" fill="#2222f0"/>
<ellipse cx="625.4" cy="349.9" rx="25.5" ry="20.8" fill="#2222f0"/>
<ellipse cx="625.4" cy="356.9" rx="16.2" ry="9.3" fill="#5050f8"/>
<ellipse cx="692.5" cy="331.4" rx="30.1" ry="41.7" fill="#2222f0"/>
<ellipse cx="701.8" cy="308.3" rx="16.2" ry="13.9" fill="#005068"/>
<ellipse cx="826.8" cy="130.0" rx="37.0" ry="23.1" fill="#0a28b4"/>
<ellipse cx="766.6" cy="169.4" rx="32.4" ry="23.1" fill="#005068"/>
<ellipse cx="833.7" cy="181.0" rx="34.7" ry="23.1" fill="#3a9a04"/>
<ellipse cx="843.0" cy="178.6" rx="16.2" ry="11.6" fill="#70b400"/>
<ellipse cx="771.2" cy="201.8" rx="32.4" ry="20.8" fill="#0a7e0a"/>
<ellipse cx="780.5" cy="190.2" rx="18.5" ry="5.8" fill="#b4d800"/>
<ellipse cx="815.2" cy="222.6" rx="34.7" ry="23.1" fill="#00603c"/>
<ellipse cx="808.3" cy="238.8" rx="13.9" ry="5.8" fill="#3a9a04"/>
<ellipse cx="729.6" cy="250.4" rx="32.4" ry="25.5" fill="#00603c"/>
<ellipse cx="775.9" cy="296.7" rx="32.4" ry="25.5" fill="#3a9a04"/>
<ellipse cx="789.7" cy="285.1" rx="11.6" ry="9.3" fill="#f6f600"/>
<ellipse cx="849.9" cy="262.0" rx="34.7" ry="23.1" fill="#3a9a04"/>
<ellipse cx="752.7" cy="347.6" rx="30.1" ry="25.5" fill="#3a9a04"/>
<ellipse cx="748.1" cy="338.4" rx="11.6" ry="9.3" fill="#b4d800"/>
<polygon points="792.1,319.9 838.4,285.1 873.1,250.4 899.0,238.8 899.0,380.5 780.5,380.5" fill="#70b400"/>
<ellipse cx="856.9" cy="349.9" rx="44.0" ry="32.4" fill="#f6f600"/>
<ellipse cx="849.9" cy="273.6" rx="23.1" ry="11.6" fill="#b4d800"/>
<ellipse cx="891.6" cy="248.1" rx="8.1" ry="5.8" fill="#ff8000"/>
<ellipse cx="824.5" cy="343.0" rx="5.8" ry="4.6" fill="#ff8000"/>
<ellipse cx="873.1" cy="361.5" rx="5.8" ry="9.3" fill="#ff8000"/>
<ellipse cx="896.2" cy="134.7" rx="6.9" ry="11.6" fill="#2222f0"/>
<ellipse cx="889.3" cy="227.3" rx="11.6" ry="11.6" fill="#0a7e0a"/>
<polygon points="908.3,192.5 956.9,201.8 991.6,201.8 1028.6,192.5 1061.0,206.4 1095.8,215.7 1112.0,238.8 1107.3,296.7 1153.6,303.6 1199.9,285.1 1249.0,273.6 1249.0,380.5 899.0,380.5 899.0,215.7" fill="#3a9a04"/>
<polygon points="899.0,238.8 1014.7,250.4 1084.2,308.3 1249.0,296.7 1249.0,380.5 899.0,380.5" fill="#70b400"/>
<ellipse cx="929.1" cy="137.0" rx="32.4" ry="23.1" fill="#2222f0"/>
<ellipse cx="919.8" cy="146.2" rx="16.2" ry="11.6" fill="#005068"/>
<ellipse cx="996.2" cy="155.5" rx="34.7" ry="23.1" fill="#2222f0"/>
<ellipse cx="933.7" cy="190.2" rx="25.5" ry="13.9" fill="#005068"/>
<ellipse cx="1167.5" cy="213.4" rx="34.7" ry="20.8" fill="#2222f0"/>
<ellipse cx="1176.8" cy="252.7" rx="46.3" ry="23.1" fill="#0a28b4"/>
<ellipse cx="1232.3" cy="229.6" rx="18.5" ry="20.8" fill="#0a28b4"/>
<ellipse cx="1125.9" cy="275.9" rx="23.1" ry="23.1" fill="#0a28b4"/>
<ellipse cx="1047.1" cy="192.5" rx="18.5" ry="9.3" fill="#005068"/>
<ellipse cx="963.8" cy="224.9" rx="16.2" ry="9.3" fill="#808080"/>
<ellipse cx="929.1" cy="271.2" rx="13.9" ry="9.3" fill="#808080"/>
<ellipse cx="933.7" cy="329.1" rx="11.6" ry="16.2" fill="#808080"/>
<ellipse cx="1176.8" cy="352.3" rx="13.9" ry="5.8" fill="#808080" transform="rotate(30 1176.8 352.3)"/>
<ellipse cx="1139.7" cy="333.7" rx="5.8" ry="4.6" fill="#808080"/>
<ellipse cx="933.7" cy="211.1" rx="23.1" ry="6.9" fill="#f6f600"/>
<ellipse cx="968.4" cy="262.0" rx="46.3" ry="9.3" fill="#f6f600" transform="rotate(15 968.4 262.0)"/>
<ellipse cx="1014.7" cy="366.1" rx="69.4" ry="16.2" fill="#f6f600"/>
<ellipse cx="1003.2" cy="363.8" rx="34.7" ry="9.3" fill="#ffc000"/>
<ellipse cx="1130.5" cy="326.8" rx="18.5" ry="9.3" fill="#f6f600"/>
<ellipse cx="1188.4" cy="324.5" rx="23.1" ry="6.9" fill="#f6f600" transform="rotate(-20 1188.4 324.5)"/>
<ellipse cx="922.1" cy="349.9" rx="20.8" ry="13.9" fill="#f6f600"/>
<ellipse cx="1088.8" cy="238.8" rx="23.1" ry="18.5" fill="#00603c"/>
<ellipse cx="1049.5" cy="319.9" rx="23.1" ry="13.9" fill="#00603c"/>
<ellipse cx="912.9" cy="227.3" rx="13.9" ry="9.3" fill="#005068"/>
<ellipse cx="1037.9" cy="262.0" rx="13.9" ry="32.4" fill="#3a9a04"/>
<ellipse cx="1211.5" cy="296.7" rx="34.7" ry="11.6" fill="#0a7e0a"/>
<polygon points="1249.0,208.7 1272.1,211.1 1302.2,201.8 1313.8,187.9 1327.7,169.4 1330.0,150.9 1353.2,141.6 1387.9,139.3 1411.0,132.4 1434.2,134.7 1457.3,141.6 1471.2,160.1 1468.9,174.0 1452.7,187.9 1452.7,211.1 1471.2,215.7 1480.5,208.7 1515.2,208.7 1533.7,220.3 1526.8,238.8 1515.2,252.7 1485.1,255.0 1480.5,238.8 1445.8,234.2 1399.5,234.2 1397.1,262.0 1383.3,275.9 1378.6,308.3 1348.5,319.9 1341.6,336.1 1306.9,354.6 1295.3,380.5 1249.0,380.5" fill="#2222f0"/>
<polygon points="1249.0,222.6 1276.8,222.6 1309.2,211.1 1325.4,192.5 1337.0,169.4 1341.6,155.5 1364.7,148.6 1392.5,146.2 1397.1,160.1 1378.6,178.6 1387.9,192.5 1434.2,178.6 1452.7,192.5 1448.1,229.6 1397.1,229.6 1387.9,257.4 1374.0,273.6 1369.4,303.6 1341.6,315.2 1334.6,331.4 1302.2,349.9 1290.7,380.5 1249.0,380.5" fill="#0a7e0a"/>
<ellipse cx="1353.2" cy="160.1" rx="20.8" ry="13.9" fill="#005068"/>
<ellipse cx="1418.0" cy="211.1" rx="32.4" ry="25.5" fill="#70b400"/>
<ellipse cx="1415.7" cy="218.0" rx="23.1" ry="5.8" fill="#f6f600" transform="rotate(-38 1415.7 218.0)"/>
<ellipse cx="1360.1" cy="245.8" rx="27.8" ry="18.5" fill="#70b400"/>
<ellipse cx="1295.3" cy="285.1" rx="53.2" ry="32.4" fill="#70b400"/>
<ellipse cx="1290.7" cy="292.1" rx="18.5" ry="6.9" fill="#f6f600"/>
<ellipse cx="1306.9" cy="250.4" rx="27.8" ry="18.5" fill="#005068"/>
<ellipse cx="1378.6" cy="206.4" rx="9.3" ry="13.9" fill="#808080"/>
<ellipse cx="1353.2" cy="229.6" rx="25.5" ry="3.2" fill="#808080"/>
<ellipse cx="1327.7" cy="266.6" rx="5.8" ry="5.8" fill="#808080"/>
<ellipse cx="1262.9" cy="338.4" rx="18.5" ry="13.9" fill="#f6f600"/>
<ellipse cx="1260.6" cy="352.3" rx="4.6" ry="6.9" fill="#ff1010"/>
<ellipse cx="1279.1" cy="370.8" rx="11.6" ry="9.3" fill="#f6f600"/>
<ellipse cx="1353.2" cy="174.0" rx="9.3" ry="2.8" fill="#f6f600"/>
<ellipse cx="1413.4" cy="156.7" rx="12.7" ry="2.8" fill="#ffc000" transform="rotate(-15 1413.4 156.7)"/>
<ellipse cx="1480.5" cy="231.9" rx="23.1" ry="9.3" fill="#005068"/>
<polygon points="335.6,380.5 342.5,399.0 361.0,417.5 361.0,445.3 384.2,452.3 418.9,459.2 432.8,482.4 453.6,496.2 488.4,505.5 523.1,489.3 523.1,456.9 511.5,449.9 476.8,454.6 469.8,426.8 453.6,415.2 430.5,403.6 421.2,380.5" fill="#2222f0"/>
<polyline points="402.7,380.5 412.0,392.1 418.9,406.0" fill="none" stroke="#70b400" stroke-width="6" stroke-linejoin="round" stroke-linecap="round"/>
<polyline points="361.0,401.3 384.2,426.8 407.3,440.7 439.7,449.9 453.6,468.5 472.1,496.2" fill="none" stroke="#0a7e0a" stroke-width="6" stroke-linejoin="round" stroke-linecap="round"/>
<ellipse cx="453.6" cy="419.9" rx="9.3" ry="6.9" fill="#5050f8"/>
<ellipse cx="493.0" cy="415.2" rx="25.5" ry="20.8" fill="#2222f0"/>
<ellipse cx="499.9" cy="473.1" rx="25.5" ry="18.5" fill="#2222f0"/>
<ellipse cx="493.0" cy="480.0" rx="9.3" ry="6.9" fill="#8c8cff"/>
<ellipse cx="539.3" cy="461.5" rx="11.6" ry="23.1" fill="#2222f0"/>
<ellipse cx="543.9" cy="456.9" rx="5.8" ry="13.9" fill="#005068"/>
<ellipse cx="532.3" cy="382.8" rx="16.2" ry="4.6" fill="#2222f0"/>
<ellipse cx="567.5" cy="449.9" rx="25.5" ry="30.1" fill="#2222f0"/>
<ellipse cx="583.7" cy="491.6" rx="23.1" ry="18.5" fill="#2222f0"/>
<ellipse cx="576.8" cy="505.5" rx="9.3" ry="6.9" fill="#0a7e0a"/>
<ellipse cx="560.6" cy="443.0" rx="9.3" ry="11.6" fill="#005068"/>
<ellipse cx="653.2" cy="426.8" rx="26.6" ry="25.5" fill="#2222f0"/>
<ellipse cx="650.9" cy="482.4" rx="27.8" ry="30.1" fill="#2222f0"/>
<ellipse cx="692.5" cy="380.5" rx="16.2" ry="4.6" fill="#2222f0"/>
<polygon points="687.9,422.2 711.0,415.2 734.2,401.3 757.3,399.0 768.9,380.5 899.0,380.5 899.0,528.6 873.1,561.1 861.5,565.7 861.5,623.6 838.4,630.5 810.6,616.6 805.9,572.6 792.1,561.1 766.6,565.7 750.4,551.8 752.7,524.0 718.0,500.9 711.0,477.7 720.3,456.9 692.5,449.9" fill="#00603c"/>
<ellipse cx="699.5" cy="433.7" rx="13.9" ry="16.2" fill="#0a28b4"/>
<polygon points="720.3,415.2 738.8,403.6 757.3,401.3 771.2,380.5 899.0,380.5 899.0,528.6 873.1,556.4 859.2,565.7 859.2,621.2 838.4,625.9 812.9,614.3 808.3,572.6 794.4,556.4 771.2,551.8 757.3,524.0 729.6,496.2 724.9,461.5" fill="#0a7e0a"/>
<polygon points="757.3,403.6 780.5,380.5 899.0,380.5 899.0,528.6 873.1,551.8 856.9,565.7 856.9,618.9 838.4,623.6 815.2,612.0 812.9,570.3 803.6,542.5 780.5,519.4 768.9,473.1 757.3,438.4" fill="#70b400"/>
<polygon points="787.4,394.4 799.0,380.5 899.0,380.5 899.0,519.4 868.4,542.5 849.9,565.7 849.9,612.0 826.8,612.0 822.1,565.7 826.8,519.4 803.6,484.7 785.1,449.9" fill="#f6f600"/>
<polygon points="826.8,380.5 899.0,380.5 899.0,510.1 873.1,519.4 849.9,496.2 845.3,449.9 826.8,415.2" fill="#ffc000"/>
<ellipse cx="877.7" cy="426.8" rx="20.8" ry="16.2" fill="#ff8000"/>
<ellipse cx="856.9" cy="436.1" rx="13.9" ry="5.8" fill="#ff1010"/>
<ellipse cx="891.6" cy="399.0" rx="9.3" ry="13.9" fill="#ff1010"/>
<ellipse cx="849.9" cy="477.7" rx="13.9" ry="13.9" fill="#ff8000"/>
<ellipse cx="870.8" cy="473.1" rx="10.4" ry="27.8" fill="#808080"/>
<ellipse cx="889.3" cy="473.1" rx="10.4" ry="18.5" fill="#ffc000"/>
<ellipse cx="868.4" cy="537.9" rx="13.9" ry="11.6" fill="#ff8000"/>
<ellipse cx="891.6" cy="526.3" rx="5.8" ry="4.2" fill="#f45aa0"/>
<ellipse cx="836.0" cy="600.4" rx="23.1" ry="27.8" fill="#ffc000"/>
<ellipse cx="817.5" cy="598.1" rx="6.9" ry="6.9" fill="#ff1010"/>
<ellipse cx="849.9" cy="588.8" rx="6.9" ry="11.6" fill="#f6f600"/>
<ellipse cx="768.9" cy="547.2" rx="18.5" ry="13.9" fill="#005068"/>
<polygon points="899.0,380.5 1249.0,380.5 1249.0,456.9 1227.7,468.5 1199.9,461.5 1176.8,477.7 1172.1,519.4 1188.4,547.2 1190.7,577.3 1193.0,602.7 1190.7,623.6 1172.1,646.7 1144.4,658.3 1121.2,651.3 1114.3,630.5 1121.2,612.0 1107.3,588.8 1102.7,565.7 1116.6,547.2 1084.2,544.9 1037.9,537.9 1003.2,537.9 968.4,547.2 922.1,551.8 899.0,551.8" fill="#f6f600"/>
<polygon points="899.0,403.6 968.4,403.6 1037.9,399.0 1061.0,426.8 1037.9,473.1 1084.2,496.2 1084.2,537.9 1037.9,535.6 1003.2,535.6 968.4,544.9 899.0,547.2" fill="#ffc000"/>
<ellipse cx="922.1" cy="496.2" rx="30.1" ry="46.3" fill="#ff1010"/>
<ellipse cx="922.1" cy="507.8" rx="13.9" ry="18.5" fill="#f45aa0"/>
<ellipse cx="933.7" cy="438.4" rx="34.7" ry="18.5" fill="#ff1010"/>
<ellipse cx="1003.2" cy="426.8" rx="34.7" ry="23.1" fill="#ff1010"/>
<ellipse cx="1000.9" cy="443.0" rx="9.3" ry="5.8" fill="#f45aa0"/>
<ellipse cx="991.6" cy="477.7" rx="34.7" ry="13.9" fill="#ff8000"/>
<ellipse cx="1061.0" cy="510.1" rx="27.8" ry="9.3" fill="#ff1010"/>
<ellipse cx="1037.9" cy="528.6" rx="34.7" ry="6.9" fill="#ff1010"/>
<ellipse cx="1028.6" cy="528.6" rx="11.6" ry="3.5" fill="#f45aa0"/>
<ellipse cx="922.1" cy="542.5" rx="23.1" ry="6.9" fill="#ff1010"/>
<ellipse cx="1227.7" cy="440.7" rx="23.1" ry="13.9" fill="#ff1010"/>
<ellipse cx="1234.6" cy="447.6" rx="13.9" ry="6.9" fill="#f45aa0"/>
<ellipse cx="1188.4" cy="438.4" rx="23.1" ry="13.9" fill="#ffc000"/>
<ellipse cx="1130.5" cy="422.2" rx="18.5" ry="9.3" fill="#ff8000"/>
<ellipse cx="1135.1" cy="392.1" rx="23.1" ry="16.2" fill="#3a9a04"/>
<ellipse cx="1061.0" cy="438.4" rx="25.5" ry="13.9" fill="#70b400"/>
<ellipse cx="1095.8" cy="410.6" rx="18.5" ry="11.6" fill="#70b400"/>
<ellipse cx="1153.6" cy="484.7" rx="20.8" ry="16.2" fill="#70b400"/>
<ellipse cx="1118.9" cy="500.9" rx="23.1" ry="13.9" fill="#70b400"/>
<ellipse cx="1160.6" cy="577.3" rx="16.2" ry="39.4" fill="#3a9a04"/>
<ellipse cx="1153.6" cy="556.4" rx="13.9" ry="13.9" fill="#70b400"/>
<ellipse cx="1186.0" cy="612.0" rx="8.1" ry="18.5" fill="#70b400"/>
<ellipse cx="1116.6" cy="577.3" rx="11.6" ry="20.8" fill="#b4d800"/>
<ellipse cx="1181.4" cy="561.1" rx="9.3" ry="16.2" fill="#ffc000"/>
<ellipse cx="1142.1" cy="635.1" rx="25.5" ry="20.8" fill="#b4d800"/>
<ellipse cx="1135.1" cy="630.5" rx="11.6" ry="9.3" fill="#f6f600"/>
<ellipse cx="1137.4" cy="623.6" rx="11.6" ry="9.3" fill="#ffc000"/>
<ellipse cx="1139.7" cy="651.3" rx="18.5" ry="6.9" fill="#3a9a04"/>
<ellipse cx="959.2" cy="392.1" rx="13.9" ry="9.3" fill="#808080"/>
<ellipse cx="948.8" cy="484.7" rx="5.8" ry="30.1" fill="#808080"/>
<ellipse cx="938.4" cy="456.9" rx="13.9" ry="6.9" fill="#808080"/>
<ellipse cx="1024.0" cy="424.5" rx="4.6" ry="5.8" fill="#808080"/>
<ellipse cx="1017.1" cy="480.0" rx="5.8" ry="6.9" fill="#808080"/>
<ellipse cx="1169.8" cy="417.5" rx="6.9" ry="9.3" fill="#808080"/>
<ellipse cx="1084.2" cy="389.8" rx="4.6" ry="4.6" fill="#808080"/>
<polygon points="1149.0,288.5 1380.5,288.5 1380.5,308.3 1347.4,321.6 1314.3,343.1 1297.8,367.9 1274.7,381.1 1264.7,420.8 1231.7,437.3 1198.6,420.8 1149.0,404.2" fill="#3a9a04"/>
<polygon points="1297.8,313.3 1355.7,303.4 1377.2,298.4 1380.5,311.6 1347.4,323.2 1317.7,344.7 1297.8,367.9 1281.3,371.2 1291.2,338.1" fill="#70b400"/>
<ellipse cx="1190.3" cy="329.8" rx="36.4" ry="6.6" fill="#f6f600" transform="rotate(-20 1190.3 329.8)"/>
<ellipse cx="1256.5" cy="329.8" rx="13.2" ry="6.6" fill="#f6f600"/>
<ellipse cx="1284.6" cy="298.4" rx="9.9" ry="4.1" fill="#f6f600"/>
<ellipse cx="1223.4" cy="371.2" rx="19.8" ry="14.9" fill="#70b400"/>
<ellipse cx="1198.6" cy="407.5" rx="43.0" ry="16.5" fill="#f6f600"/>
<ellipse cx="1190.3" cy="437.3" rx="26.5" ry="19.8" fill="#ff8000"/>
<ellipse cx="1235.0" cy="442.3" rx="34.7" ry="16.5" fill="#ff1010" transform="rotate(-32 1235.0 442.3)"/>
<ellipse cx="1248.2" cy="445.6" rx="14.9" ry="6.6" fill="#f45aa0" transform="rotate(-32 1248.2 445.6)"/>
<ellipse cx="1213.5" cy="434.0" rx="11.6" ry="7.4" fill="#f45aa0"/>
<ellipse cx="1168.8" cy="417.5" rx="6.6" ry="8.3" fill="#808080"/>
<ellipse cx="1182.1" cy="354.6" rx="16.5" ry="3.0" fill="#808080" transform="rotate(40 1182.1 354.6)"/>
<ellipse cx="1162.2" cy="503.4" rx="9.9" ry="33.1" fill="#f6f600"/>
<ellipse cx="1165.5" cy="516.7" rx="5.0" ry="8.3" fill="#ffc000"/>
<ellipse cx="1165.5" cy="462.1" rx="16.5" ry="13.2" fill="#f6f600"/>
</g>
</g>
<g clip-path="url(#clipA)">
<polyline points="199.0,53.7 217.3,57.4 229.4,78.0 253.8,90.2 240.1,114.6 259.8,121.3 290.3,124.3 314.6,133.4 326.8,151.1 342.0,169.3" fill="none" stroke="#000000" stroke-width="9" stroke-linejoin="round" stroke-linecap="round"/>
<polyline points="226.4,118.2 244.6,133.4 275.1,151.1 299.4,160.8 316.1,155.6 299.4,139.5 275.1,127.3 244.6,115.2 226.4,118.2" fill="none" stroke="#000000" stroke-width="7" stroke-linejoin="round" stroke-linecap="round"/>
<polygon points="314.6,138.9 335.9,145.0 348.1,166.3 351.1,184.5 335.9,192.1 320.7,184.5 308.5,172.4 302.4,160.2" fill="#000000"/>
<polyline points="308.5,172.4 315.2,196.7 317.6,221.0 312.2,245.4 306.1,269.7 308.5,297.1 312.2,321.4 320.7,342.7 332.9,361.0 348.1,376.2" fill="none" stroke="#000000" stroke-width="5" stroke-linejoin="round" stroke-linecap="round"/>
<polyline points="348.2,382.7 356.7,401.6 373.4,416.8 382.5,436.6 403.2,445.7 426.7,453.3 440.3,463.9 449.5,476.1 455.6,494.4 464.7,512.6 473.8,527.8 492.1,543.0 504.2,555.2 507.3,567.4 492.1,570.4 504.2,582.6 522.5,594.8 534.7,606.9 543.8,625.2 549.9,640.4 565.1,652.6 577.2,658.6" fill="none" stroke="#000000" stroke-width="4.5" stroke-linejoin="round" stroke-linecap="round"/>
<polyline points="489.0,491.3 498.1,512.6 504.2,530.9 519.4,549.1 531.6,567.4 543.8,585.6 559.0,606.9 571.2,631.3 577.2,658.6" fill="none" stroke="#000000" stroke-width="4.5" stroke-linejoin="round" stroke-linecap="round"/>
<polyline points="489.0,491.3 510.3,494.4 528.6,503.5 534.7,524.8 549.9,549.1 571.2,570.4 592.5,588.7 607.7,610.0 625.9,631.3 641.1,646.5 660.0,664.7 674.6,679.9 683.4,693.0 681.0,704.6 674.0,715.8 676.4,730.4" fill="none" stroke="#000000" stroke-width="4.5" stroke-linejoin="round" stroke-linecap="round"/>
<polyline points="823.1,48.5 830.1,55.5 839.4,76.3 853.2,106.4 855.6,122.6 846.3,122.6 841.7,99.4 823.1,92.5 806.9,76.3 800.0,69.4 804.6,60.1 818.5,57.8 823.1,48.5" fill="none" stroke="#000000" stroke-width="4" stroke-linejoin="round" stroke-linecap="round"/>
<ellipse cx="824.3" cy="52.0" rx="4.2" ry="4.2" fill="#000000"/>
<polyline points="1128.2,42.1 1132.8,58.3 1128.2,76.8 1142.1,90.7 1162.9,104.6 1176.8,111.5 1195.3,106.9" fill="none" stroke="#000000" stroke-width="4" stroke-linejoin="round" stroke-linecap="round"/>
<polyline points="1188.4,42.1 1197.6,65.2 1204.6,88.4 1199.9,111.5 1195.3,106.9" fill="none" stroke="#000000" stroke-width="6" stroke-linejoin="round" stroke-linecap="round"/>
<polyline points="943.0,197.2 963.8,183.3 984.6,171.7 1010.1,157.8 1033.3,156.7 1051.8,159.0 1061.0,171.7 1079.6,176.3 1084.2,190.2 1095.8,206.4 1084.2,208.7 1070.3,204.1 1047.1,201.8 1028.6,197.2 1007.8,190.2 991.6,194.9 970.8,201.8 959.2,194.9 943.0,197.2" fill="none" stroke="#000000" stroke-width="4" stroke-linejoin="round" stroke-linecap="round"/>
<polyline points="1095.8,208.7 1074.9,215.7 1058.7,229.6 1049.5,248.1 1051.8,271.2 1049.5,287.4 1037.9,299.0 1028.6,292.1 1025.2,273.6 1025.2,250.4 1024.0,236.5 1033.3,222.6 1047.1,215.7 1065.7,209.9 1084.2,208.3 1095.8,208.7" fill="none" stroke="#000000" stroke-width="4" stroke-linejoin="round" stroke-linecap="round"/>
<polyline points="1095.8,208.7 1118.9,208.7 1142.1,211.1 1165.2,222.6 1181.4,238.8 1172.1,234.2 1153.6,224.9 1144.4,227.3 1146.7,238.8 1144.4,252.7 1139.7,268.9 1130.5,266.6 1121.2,255.0 1107.3,252.7 1114.3,238.8 1107.3,222.6 1095.8,208.7" fill="none" stroke="#000000" stroke-width="4" stroke-linejoin="round" stroke-linecap="round"/>
<polyline points="1112.0,296.7 1121.2,282.8 1139.7,282.8 1153.6,275.9 1176.8,271.2 1195.3,266.6 1199.9,271.2 1176.8,282.8 1153.6,292.1 1142.1,301.3 1118.9,303.6 1112.0,296.7" fill="none" stroke="#000000" stroke-width="4" stroke-linejoin="round" stroke-linecap="round"/>
<polyline points="1183.7,262.0 1204.6,252.7 1227.7,250.4 1246.2,252.7 1241.6,262.0 1223.1,264.3 1199.9,264.3 1183.7,262.0" fill="none" stroke="#000000" stroke-width="4" stroke-linejoin="round" stroke-linecap="round"/>
<polyline points="1249.0,231.9 1262.9,227.3 1283.7,222.6 1306.9,213.4 1330.0,201.8 1353.2,192.5 1371.7,181.0 1387.9,167.1 1406.4,157.8 1424.9,150.9 1431.9,139.3 1441.1,132.4 1457.3,130.0 1480.5,130.0 1503.6,127.7 1515.2,125.4 1533.7,132.4 1568.4,130.0" fill="none" stroke="#000000" stroke-width="4" stroke-linejoin="round" stroke-linecap="round"/>
<polyline points="1424.9,150.9 1445.8,150.9 1468.9,148.6 1482.8,153.2 1487.4,162.4 1480.5,171.7 1471.2,174.0 1466.6,187.9 1480.5,211.1 1492.1,215.7 1515.2,220.3 1538.4,220.3 1549.9,204.1 1559.2,192.5 1568.4,197.2" fill="none" stroke="#000000" stroke-width="4" stroke-linejoin="round" stroke-linecap="round"/>
<polyline points="1448.1,243.5 1445.8,255.0 1457.3,262.0 1471.2,257.4 1480.5,245.8 1492.1,236.5 1515.2,229.6 1538.4,224.9 1549.9,229.6 1561.5,220.3 1568.4,211.1" fill="none" stroke="#000000" stroke-width="4" stroke-linejoin="round" stroke-linecap="round"/>
<polyline points="1448.1,243.5 1462.0,236.5 1480.5,231.9 1494.4,227.3" fill="none" stroke="#000000" stroke-width="4" stroke-linejoin="round" stroke-linecap="round"/>
<polyline points="1397.1,241.1 1411.0,238.8 1424.9,234.2 1434.2,229.6 1448.1,227.3 1462.0,224.9 1471.2,215.7 1478.2,211.1" fill="none" stroke="#000000" stroke-width="6" stroke-linejoin="round" stroke-linecap="round"/>
<ellipse cx="1560.3" cy="69.9" rx="6.5" ry="4.6" fill="#000000"/>
<polyline points="899.0,528.6 887.0,528.6 877.7,540.2 856.9,551.8 840.7,563.4 831.4,579.6 836.0,602.7 831.4,621.2 826.8,635.1 826.8,669.9 833.7,693.0 843.0,711.5 854.6,730.5" fill="none" stroke="#000000" stroke-width="6.5" stroke-linejoin="round" stroke-linecap="round"/>
<polyline points="899.0,531.0 912.9,531.0 933.7,533.3 952.2,535.6 966.1,542.5 975.4,540.2" fill="none" stroke="#000000" stroke-width="6.5" stroke-linejoin="round" stroke-linecap="round"/>
<ellipse cx="988.1" cy="533.3" rx="13.4" ry="10.4" fill="#000000"/>
<ellipse cx="1018.2" cy="515.9" rx="4.6" ry="4.6" fill="#000000"/>
<polyline points="1000.9,528.6 1014.7,519.4 1019.4,514.8 1037.9,517.1 1056.4,519.4 1070.3,526.3 1084.2,528.6 1098.1,526.3 1112.0,533.3 1121.2,547.2 1125.9,565.7 1130.5,581.9 1139.7,593.5 1149.0,607.4 1155.9,618.9 1165.2,623.6 1172.1,616.6 1174.5,600.4 1169.8,584.2 1162.9,561.1 1155.9,542.5 1151.3,524.0 1146.7,505.5 1149.0,496.2 1160.6,482.4" fill="none" stroke="#000000" stroke-width="6.5" stroke-linejoin="round" stroke-linecap="round"/>
<polyline points="1081.9,686.1 1093.4,674.5 1107.3,665.2 1121.2,660.6 1142.1,660.6 1160.6,660.6 1176.8,665.2 1195.3,674.5 1211.5,683.7 1230.0,695.3 1249.0,702.3" fill="none" stroke="#000000" stroke-width="4" stroke-linejoin="round" stroke-linecap="round"/>
<polyline points="1081.9,686.1 1095.8,681.4 1112.0,674.5 1125.9,665.2 1137.4,674.5 1149.0,679.1 1165.2,681.4 1183.7,688.4 1199.9,697.6 1213.8,704.6 1232.3,713.8 1227.7,723.1 1223.1,730.5" fill="none" stroke="#000000" stroke-width="4" stroke-linejoin="round" stroke-linecap="round"/>
<polyline points="970.8,730.5 970.8,713.8 980.0,702.3 996.2,695.3 1014.7,693.0 1035.6,693.0 1044.8,697.6 1042.5,706.9 1035.6,718.5 1030.9,730.5" fill="none" stroke="#000000" stroke-width="4" stroke-linejoin="round" stroke-linecap="round"/>
<polyline points="1250.0,699.4 1263.9,704.1 1280.1,713.3 1294.0,720.3 1284.7,724.9 1273.1,722.6 1261.6,730.0" fill="none" stroke="#000000" stroke-width="4" stroke-linejoin="round" stroke-linecap="round"/>
<polyline points="1159.5,489.7 1175.4,477.8 1191.3,463.9 1207.1,454.0 1223.0,446.0 1238.9,438.1 1250.8,428.2 1256.7,410.3 1258.7,398.4 1262.7,386.5 1268.7,368.7 1274.6,356.7 1286.5,342.9 1290.5,329.0 1294.4,319.0 1308.3,309.1 1338.1,301.2 1373.8,299.2 1377.8,293.3 1356.0,287.3 1356.0,275.4 1365.9,259.5 1381.7,249.6 1400.0,241.7" fill="none" stroke="#000000" stroke-width="6.5" stroke-linejoin="round" stroke-linecap="round"/>
<polygon points="1227.0,360.7 1238.9,354.8 1246.8,338.9 1264.7,334.9 1266.7,346.8 1256.7,350.8 1258.7,358.7 1268.7,364.7 1264.7,378.6 1258.7,388.5 1260.7,402.4 1264.7,414.3 1254.8,424.2 1250.8,432.1 1238.9,436.1 1236.9,418.3 1244.8,406.3 1242.9,390.5 1238.9,378.6 1242.9,368.7 1231.0,364.7" fill="#000000"/>
<polyline points="1221.0,207.9 1238.9,217.9 1258.7,222.8 1278.6,222.8 1290.5,218.8" fill="none" stroke="#000000" stroke-width="5" stroke-linejoin="round" stroke-linecap="round"/>
</g>
<text x="205.5" y="681" class="tt" fill="#fff" stroke="#fff" textLength="562" lengthAdjust="spacingAndGlyphs">(b). R99p (mm/yr)</text>
<rect x="201.25" y="38.25" width="1367.5" height="688" fill="none" stroke="#0a0a0a" stroke-width="4.5"/>
<rect x="1600" y="38.5" width="65.5" height="688" fill="url(#cb)"/>
<rect x="1600" y="38.5" width="65.5" height="688" fill="none" stroke="#2a2230" stroke-width="3.2"/>
<line x1="1666" y1="726.5" x2="1684" y2="726.5" stroke="#222" stroke-width="3.5"/>
<text transform="translate(1699 745.0) scale(0.885 1)" class="tk" text-anchor="start">0</text>
<line x1="1666" y1="554.5" x2="1684" y2="554.5" stroke="#222" stroke-width="3.5"/>
<text transform="translate(1699 573.0) scale(0.885 1)" class="tk" text-anchor="start">100</text>
<line x1="1666" y1="382.5" x2="1684" y2="382.5" stroke="#222" stroke-width="3.5"/>
<text transform="translate(1699 401.0) scale(0.885 1)" class="tk" text-anchor="start">200</text>
<line x1="1666" y1="210.5" x2="1684" y2="210.5" stroke="#222" stroke-width="3.5"/>
<text transform="translate(1699 229.0) scale(0.885 1)" class="tk" text-anchor="start">300</text>
<line x1="1666" y1="38.5" x2="1684" y2="38.5" stroke="#222" stroke-width="3.5"/>
<text transform="translate(1699 57.0) scale(0.885 1)" class="tk" text-anchor="start">400</text>
<text transform="translate(180 348) scale(0.885 1)" class="tk" text-anchor="end">40°N</text>
<text transform="translate(180 738) scale(0.885 1)" class="tk" text-anchor="end">20°N</text>
<text transform="translate(197 778) scale(0.885 1)" class="tk" text-anchor="middle">130°W</text>
<text transform="translate(588 778) scale(0.885 1)" class="tk" text-anchor="middle">110°W</text>
<text transform="translate(981 778) scale(0.885 1)" class="tk" text-anchor="middle">90°W</text>
<text transform="translate(1378 778) scale(0.885 1)" class="tk" text-anchor="middle">70°W</text>
</g>
<g id="chart">
<rect x="203.5" y="1671.5" width="1478.0" height="1080.0" fill="#fff"/>
<path d="M302.5 1671.5V2751.5M622.5 1671.5V2751.5M942.5 1671.5V2751.5M1262.5 1671.5V2751.5M1582.5 1671.5V2751.5M203.5 2535.5H1681.5M203.5 2319.5H1681.5M203.5 2103.5H1681.5M203.5 1887.5H1681.5" stroke="#b0b0b0" stroke-width="2.1" fill="none"/>
<g clip-path="url(#clipC)">
<line x1="942.5" y1="1671.5" x2="942.5" y2="2751.5" stroke="#add8e6" stroke-width="7.5" stroke-opacity="0.92"/>
<path d="M334.5 1842.6V2152.5M313.5 1842.6h42M313.5 2152.5h42" stroke="#ffa500" stroke-opacity="0.5" stroke-width="3" fill="none"/>
<path d="M654.5 1836.5V2123.4M633.5 1836.5h42M633.5 2123.4h42" stroke="#ffa500" stroke-opacity="0.5" stroke-width="3" fill="none"/>
<path d="M1230.5 1738.5V2102.6M1209.5 1738.5h42M1209.5 2102.6h42" stroke="#ffa500" stroke-opacity="0.5" stroke-width="3" fill="none"/>
<path d="M1550.5 1804.6V2185.6M1529.5 1804.6h42M1529.5 2185.6h42" stroke="#ffa500" stroke-opacity="0.5" stroke-width="3" fill="none"/>
<path d="M942.5 1732.0V2018.6" stroke="#ffa500" stroke-opacity="0.22" stroke-width="3" fill="none"/>
<path d="M942.5 1736.3V2030.5" stroke="#ffa500" stroke-opacity="0.22" stroke-width="3" fill="none"/>
<path d="M334.5 1995.5V2235.9M313.5 1995.5h42M313.5 2235.9h42" stroke="#ff0000" stroke-opacity="0.5" stroke-width="3" fill="none"/>
<path d="M654.5 1962.5V2203.3M633.5 1962.5h42M633.5 2203.3h42" stroke="#ff0000" stroke-opacity="0.5" stroke-width="3" fill="none"/>
<path d="M1230.5 1759.4V2122.5M1209.5 1759.4h42M1209.5 2122.5h42" stroke="#ff0000" stroke-opacity="0.5" stroke-width="3" fill="none"/>
<path d="M1550.5 1821.4V2191.8M1529.5 1821.4h42M1529.5 2191.8h42" stroke="#ff0000" stroke-opacity="0.5" stroke-width="3" fill="none"/>
<path d="M942.5 1870.2V2102.6" stroke="#ff0000" stroke-opacity="0.22" stroke-width="3" fill="none"/>
<path d="M942.5 1887.5V2114.1" stroke="#ff0000" stroke-opacity="0.22" stroke-width="3" fill="none"/>
<path d="M334.5 1973.9V2245.0M313.5 1973.9h42M313.5 2245.0h42" stroke="#008000" stroke-opacity="0.5" stroke-width="3" fill="none"/>
<path d="M654.5 1982.3V2239.1M633.5 1982.3h42M633.5 2239.1h42" stroke="#008000" stroke-opacity="0.5" stroke-width="3" fill="none"/>
<path d="M1230.5 2039.6V2305.5M1209.5 2039.6h42M1209.5 2305.5h42" stroke="#008000" stroke-opacity="0.5" stroke-width="3" fill="none"/>
<path d="M1550.5 2093.3V2364.4M1529.5 2093.3h42M1529.5 2364.4h42" stroke="#008000" stroke-opacity="0.5" stroke-width="3" fill="none"/>
<path d="M942.5 1961.6V2188.8" stroke="#008000" stroke-opacity="0.22" stroke-width="3" fill="none"/>
<path d="M942.5 1973.9V2215.2" stroke="#008000" stroke-opacity="0.22" stroke-width="3" fill="none"/>
<path d="M462.5 1944.3V2212.4M441.5 1944.3h42M441.5 2212.4h42" stroke="#000000" stroke-opacity="0.5" stroke-width="3" fill="none"/>
<path d="M718.5 1914.3V2176.7M697.5 1914.3h42M697.5 2176.7h42" stroke="#000000" stroke-opacity="0.5" stroke-width="3" fill="none"/>
<path d="M1166.5 1937.4V2200.5M1145.5 1937.4h42M1145.5 2200.5h42" stroke="#000000" stroke-opacity="0.5" stroke-width="3" fill="none"/>
<path d="M1422.5 1956.6V2241.5M1401.5 1956.6h42M1401.5 2241.5h42" stroke="#000000" stroke-opacity="0.5" stroke-width="3" fill="none"/>
<path d="M942.5 1813.0V2092.7" stroke="#000000" stroke-opacity="0.22" stroke-width="3" fill="none"/>
<path d="M942.5 1831.3V2103.5" stroke="#000000" stroke-opacity="0.22" stroke-width="3" fill="none"/>
<path d="M398.5 2149.7V2395.3M377.5 2149.7h42M377.5 2395.3h42" stroke="#0000ff" stroke-opacity="0.5" stroke-width="3" fill="none"/>
<path d="M590.5 2143.7V2400.7M569.5 2143.7h42M569.5 2400.7h42" stroke="#0000ff" stroke-opacity="0.5" stroke-width="3" fill="none"/>
<path d="M782.5 2111.5V2362.1M761.5 2111.5h42M761.5 2362.1h42" stroke="#0000ff" stroke-opacity="0.5" stroke-width="3" fill="none"/>
<path d="M1102.5 1914.3V2224.2M1081.5 1914.3h42M1081.5 2224.2h42" stroke="#0000ff" stroke-opacity="0.5" stroke-width="3" fill="none"/>
<path d="M1294.5 1938.7V2248.2M1273.5 1938.7h42M1273.5 2248.2h42" stroke="#0000ff" stroke-opacity="0.5" stroke-width="3" fill="none"/>
<path d="M1486.5 2024.7V2302.4M1465.5 2024.7h42M1465.5 2302.4h42" stroke="#0000ff" stroke-opacity="0.5" stroke-width="3" fill="none"/>
<path d="M942.5 1938.3V2284.1" stroke="#0000ff" stroke-opacity="0.22" stroke-width="3" fill="none"/>
<path d="M942.5 2051.0V2251.5" stroke="#0000ff" stroke-opacity="0.22" stroke-width="3" fill="none"/>
<line x1="942.5" y1="1671.5" x2="942.5" y2="2751.5" stroke="#add8e6" stroke-width="7.5" stroke-opacity="0.45"/>
<path d="M921.5 1732.0h42M921.5 2018.6h42" stroke="#ffa500" stroke-opacity="0.5" stroke-width="3" fill="none"/>
<path d="M921.5 1736.3h42M921.5 2030.5h42" stroke="#ffa500" stroke-opacity="0.5" stroke-width="3" fill="none"/>
<path d="M921.5 1870.2h42M921.5 2102.6h42" stroke="#ff0000" stroke-opacity="0.5" stroke-width="3" fill="none"/>
<path d="M921.5 1887.5h42M921.5 2114.1h42" stroke="#ff0000" stroke-opacity="0.5" stroke-width="3" fill="none"/>
<path d="M921.5 1961.6h42M921.5 2188.8h42" stroke="#008000" stroke-opacity="0.5" stroke-width="3" fill="none"/>
<path d="M921.5 1973.9h42M921.5 2215.2h42" stroke="#008000" stroke-opacity="0.5" stroke-width="3" fill="none"/>
<path d="M921.5 1813.0h42M921.5 2092.7h42" stroke="#000000" stroke-opacity="0.5" stroke-width="3" fill="none"/>
<path d="M921.5 1831.3h42M921.5 2103.5h42" stroke="#000000" stroke-opacity="0.5" stroke-width="3" fill="none"/>
<path d="M921.5 1938.3h42M921.5 2284.1h42" stroke="#0000ff" stroke-opacity="0.5" stroke-width="3" fill="none"/>
<path d="M921.5 2051.0h42M921.5 2251.5h42" stroke="#0000ff" stroke-opacity="0.5" stroke-width="3" fill="none"/>
<text x="205.5" y="1781" class="tt" fill="#000" stroke="#000" textLength="878" lengthAdjust="spacingAndGlyphs">(c). P Climatology (mm/day)</text>
<polyline points="270.5,2258.6 334.5,2214.7 398.5,2270.5 462.5,2221.4 526.5,2259.7 590.5,2272.2 654.5,2240.4 718.5,2273.1 782.5,2234.2 846.5,2221.4 910.5,2151.0 942.5,2130.5 974.5,2082.8 1038.5,2035.2 1102.5,2067.4 1166.5,2040.0 1230.5,2076.3 1294.5,2090.8 1358.5,2100.0 1422.5,2156.9 1486.5,2163.5 1550.5,2166.1 1614.5,2164.8" fill="none" stroke="#0000ff" stroke-width="6.4" stroke-linejoin="round"/>
<polyline points="270.5,2119.7 334.5,2115.4 398.5,2108.9 462.5,2103.9 526.5,2102.4 590.5,2097.5 654.5,2081.5 718.5,2069.6 782.5,2053.8 846.5,2024.7 910.5,2004.8 942.5,1991.0 974.5,1972.6 1038.5,1957.3 1102.5,1928.3 1166.5,1936.1 1230.5,1940.0 1294.5,1954.5 1358.5,1981.0 1422.5,1990.3 1486.5,1992.9 1550.5,2006.1 1614.5,2006.1" fill="none" stroke="#ff0000" stroke-width="6.4" stroke-linejoin="round"/>
<polyline points="270.5,2084.7 334.5,2080.6 398.5,2078.2 462.5,2076.3 526.5,2073.3 590.5,2069.6 654.5,2055.1 718.5,2045.2 782.5,2027.9 846.5,2003.5 910.5,1978.2 942.5,1956.6 974.5,1979.9 1038.5,2016.9 1102.5,2048.0 1166.5,2068.3 1230.5,2070.9 1294.5,2073.5 1358.5,2084.1 1422.5,2097.5 1486.5,2103.9 1550.5,2113.2 1614.5,2103.5" fill="none" stroke="#000000" stroke-width="6.4" stroke-linejoin="round"/>
<polyline points="270.5,1996.8 334.5,1996.8 398.5,1995.5 462.5,1999.4 526.5,1997.7 590.5,1991.6 654.5,1976.9 718.5,1967.6 782.5,1941.3 846.5,1910.8 910.5,1887.5 942.5,1874.5 974.5,1875.2 1038.5,1876.1 1102.5,1884.7 1166.5,1898.9 1230.5,1918.8 1294.5,1933.3 1358.5,1963.7 1422.5,1976.9 1486.5,1979.7 1550.5,1992.9 1614.5,1996.8" fill="none" stroke="#ff0000" stroke-width="6.4" stroke-linejoin="round" stroke-dasharray="23.5 10.2"/>
<polyline points="270.5,2115.4 334.5,2108.7 398.5,2108.3 462.5,2107.8 526.5,2107.8 590.5,2116.0 654.5,2109.3 718.5,2099.2 782.5,2085.4 846.5,2072.2 910.5,2070.0 942.5,2083.4 974.5,2117.1 1038.5,2133.1 1102.5,2136.3 1166.5,2151.7 1230.5,2171.5 1294.5,2179.3 1358.5,2194.0 1422.5,2211.1 1486.5,2214.5 1550.5,2227.1 1614.5,2236.8" fill="none" stroke="#008000" stroke-width="6.4" stroke-linejoin="round"/>
</g>
<text x="240" y="2741" class="ct" textLength="155" lengthAdjust="spacingAndGlyphs">Land</text>
<text x="1390" y="2741" class="ct" textLength="208" lengthAdjust="spacingAndGlyphs">Ocean</text>
<rect x="1377.5" y="2420" width="284" height="239" rx="7" ry="7" fill="#fff" fill-opacity="0.8" stroke="#ccc" stroke-opacity="0.8" stroke-width="2.6"/>
<line x1="1389" y1="2442.5" x2="1459" y2="2442.5" stroke="#0000ff" stroke-width="6.4"/>
<text x="1484" y="2454.5" class="lg">CMORPH</text>
<line x1="1389" y1="2489.2" x2="1459" y2="2489.2" stroke="#ff0000" stroke-width="6.4"/>
<text x="1484" y="2501.2" class="lg">IMERG-F</text>
<line x1="1389" y1="2535.9" x2="1459" y2="2535.9" stroke="#000000" stroke-width="6.4"/>
<text x="1484" y="2547.9" class="lg">PERSIANN</text>
<line x1="1389" y1="2582.6" x2="1459" y2="2582.6" stroke="#ff0000" stroke-width="6.4" stroke-dasharray="23.5 10.2"/>
<text x="1484" y="2594.6" class="lg">IMERG-L</text>
<line x1="1389" y1="2629.3" x2="1459" y2="2629.3" stroke="#008000" stroke-width="6.4"/>
<text x="1484" y="2641.3" class="lg">MRMS</text>
<rect x="203.5" y="1671.5" width="1478.0" height="1080.0" fill="none" stroke="#111" stroke-width="2.7"/>
<path d="M302.5 2751.5v12.5M622.5 2751.5v12.5M942.5 2751.5v12.5M1262.5 2751.5v12.5M1582.5 2751.5v12.5M203.5 2751.5h-12.5M203.5 2535.5h-12.5M203.5 2319.5h-12.5M203.5 2103.5h-12.5M203.5 1887.5h-12.5M203.5 1671.5h-12.5" stroke="#111" stroke-width="3" fill="none"/>
<text transform="translate(178 2772.0) scale(1.1 1)" class="ct" text-anchor="end">0</text>
<text transform="translate(178 2556.0) scale(1.1 1)" class="ct" text-anchor="end">1</text>
<text transform="translate(178 2340.0) scale(1.1 1)" class="ct" text-anchor="end">2</text>
<text transform="translate(178 2124.0) scale(1.1 1)" class="ct" text-anchor="end">3</text>
<text transform="translate(178 1908.0) scale(1.1 1)" class="ct" text-anchor="end">4</text>
<text transform="translate(178 1692.0) scale(1.1 1)" class="ct" text-anchor="end">5</text>
<text transform="translate(301.5 2820) scale(1.11 1)" class="ct" text-anchor="middle">−100</text>
<text transform="translate(621.5 2820) scale(1.11 1)" class="ct" text-anchor="middle">−50</text>
<text transform="translate(941.5 2820) scale(1.11 1)" class="ct" text-anchor="middle">0</text>
<text transform="translate(1261.5 2820) scale(1.11 1)" class="ct" text-anchor="middle">50</text>
<text transform="translate(1581.5 2820) scale(1.11 1)" class="ct" text-anchor="middle">100</text>
<text x="938" y="2896" class="ct" style="font-size:65px" text-anchor="middle" textLength="859" lengthAdjust="spacingAndGlyphs">Distance to Coastline(km)</text>
</g>
</svg></body></html>
